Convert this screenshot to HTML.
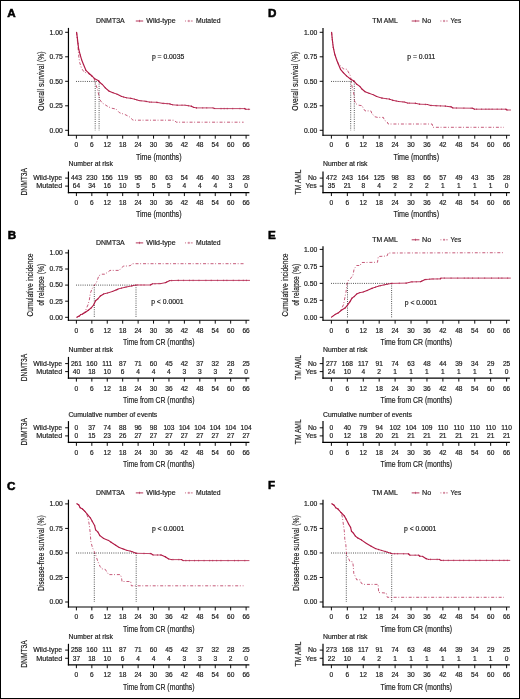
<!DOCTYPE html>
<html><head><meta charset="utf-8"><style>
html,body{margin:0;padding:0;background:#fff;}
body{width:520px;height:699px;overflow:hidden;}
svg{display:block;will-change:transform;}
text{font-family:"Liberation Sans", sans-serif;stroke:#1a1a1a;stroke-width:0.18px;}
</style></head><body>
<svg width="520" height="699" viewBox="0 0 520 699">
<rect x="0" y="0" width="520" height="699" fill="#fff"/>
<rect x="0.5" y="0.5" width="519" height="698" fill="none" stroke="#000" stroke-width="1"/>
<text x="7.30" y="17.35" font-size="11.65" text-anchor="start" font-weight="bold" fill="#000" style="stroke:#000;stroke-width:0.55px">A</text>
<text x="268.00" y="17.35" font-size="11.65" text-anchor="start" font-weight="bold" fill="#000" style="stroke:#000;stroke-width:0.55px">D</text>
<text x="7.70" y="239.45" font-size="11.65" text-anchor="start" font-weight="bold" fill="#000" style="stroke:#000;stroke-width:0.55px">B</text>
<text x="268.10" y="239.25" font-size="11.65" text-anchor="start" font-weight="bold" fill="#000" style="stroke:#000;stroke-width:0.55px">E</text>
<text x="7.00" y="489.65" font-size="11.65" text-anchor="start" font-weight="bold" fill="#000" style="stroke:#000;stroke-width:0.55px">C</text>
<text x="268.10" y="488.95" font-size="11.65" text-anchor="start" font-weight="bold" fill="#000" style="stroke:#000;stroke-width:0.55px">F</text>
<text x="96.10" y="23.20" font-size="6.95" text-anchor="start" font-weight="normal" fill="#1a1a1a">DNMT3A</text>
<text x="146.30" y="23.20" font-size="7.0" text-anchor="start" font-weight="normal" fill="#1a1a1a" textLength="29.3" lengthAdjust="spacingAndGlyphs">Wild-type</text>
<text x="196.00" y="23.20" font-size="7.0" text-anchor="start" font-weight="normal" fill="#1a1a1a" textLength="24.6" lengthAdjust="spacingAndGlyphs">Mutated</text>
<line x1="135.80" y1="21.00" x2="143.20" y2="21.00" stroke="#a8123e" stroke-width="1.0" opacity="0.85"/>
<line x1="139.50" y1="19.80" x2="139.50" y2="22.20" stroke="#a8123e" stroke-width="0.7" opacity="0.7"/>
<line x1="185.00" y1="21.00" x2="192.80" y2="21.00" stroke="#a8123e" stroke-width="1.0" stroke-dasharray="1.0,1.6,2.2,1.0,1.9" opacity="0.6"/>
<line x1="188.90" y1="19.80" x2="188.90" y2="22.20" stroke="#a8123e" stroke-width="0.7" opacity="0.5"/>
<line x1="68.45" y1="27.90" x2="68.45" y2="135.85" stroke="#000" stroke-width="1.2"/>
<line x1="65.15" y1="130.30" x2="68.45" y2="130.30" stroke="#000" stroke-width="0.95"/>
<text x="62.75" y="132.65" font-size="6.8" text-anchor="end" font-weight="normal" fill="#1a1a1a">0.00</text>
<line x1="65.15" y1="105.80" x2="68.45" y2="105.80" stroke="#000" stroke-width="0.95"/>
<text x="62.75" y="108.15" font-size="6.8" text-anchor="end" font-weight="normal" fill="#1a1a1a">0.25</text>
<line x1="65.15" y1="81.30" x2="68.45" y2="81.30" stroke="#000" stroke-width="0.95"/>
<text x="62.75" y="83.65" font-size="6.8" text-anchor="end" font-weight="normal" fill="#1a1a1a">0.50</text>
<line x1="65.15" y1="56.80" x2="68.45" y2="56.80" stroke="#000" stroke-width="0.95"/>
<text x="62.75" y="59.15" font-size="6.8" text-anchor="end" font-weight="normal" fill="#1a1a1a">0.75</text>
<line x1="65.15" y1="32.30" x2="68.45" y2="32.30" stroke="#000" stroke-width="0.95"/>
<text x="62.75" y="34.65" font-size="6.8" text-anchor="end" font-weight="normal" fill="#1a1a1a">1.00</text>
<line x1="67.85" y1="135.25" x2="249.40" y2="135.25" stroke="#000" stroke-width="1.2"/>
<line x1="76.40" y1="135.25" x2="76.40" y2="138.65" stroke="#000" stroke-width="0.95"/>
<text x="76.40" y="147.30" font-size="6.6" text-anchor="middle" font-weight="normal" fill="#1a1a1a">0</text>
<line x1="91.83" y1="135.25" x2="91.83" y2="138.65" stroke="#000" stroke-width="0.95"/>
<text x="91.83" y="147.30" font-size="6.6" text-anchor="middle" font-weight="normal" fill="#1a1a1a">6</text>
<line x1="107.25" y1="135.25" x2="107.25" y2="138.65" stroke="#000" stroke-width="0.95"/>
<text x="107.25" y="147.30" font-size="6.6" text-anchor="middle" font-weight="normal" fill="#1a1a1a">12</text>
<line x1="122.68" y1="135.25" x2="122.68" y2="138.65" stroke="#000" stroke-width="0.95"/>
<text x="122.68" y="147.30" font-size="6.6" text-anchor="middle" font-weight="normal" fill="#1a1a1a">18</text>
<line x1="138.11" y1="135.25" x2="138.11" y2="138.65" stroke="#000" stroke-width="0.95"/>
<text x="138.11" y="147.30" font-size="6.6" text-anchor="middle" font-weight="normal" fill="#1a1a1a">24</text>
<line x1="153.54" y1="135.25" x2="153.54" y2="138.65" stroke="#000" stroke-width="0.95"/>
<text x="153.54" y="147.30" font-size="6.6" text-anchor="middle" font-weight="normal" fill="#1a1a1a">30</text>
<line x1="168.96" y1="135.25" x2="168.96" y2="138.65" stroke="#000" stroke-width="0.95"/>
<text x="168.96" y="147.30" font-size="6.6" text-anchor="middle" font-weight="normal" fill="#1a1a1a">36</text>
<line x1="184.39" y1="135.25" x2="184.39" y2="138.65" stroke="#000" stroke-width="0.95"/>
<text x="184.39" y="147.30" font-size="6.6" text-anchor="middle" font-weight="normal" fill="#1a1a1a">42</text>
<line x1="199.82" y1="135.25" x2="199.82" y2="138.65" stroke="#000" stroke-width="0.95"/>
<text x="199.82" y="147.30" font-size="6.6" text-anchor="middle" font-weight="normal" fill="#1a1a1a">48</text>
<line x1="215.25" y1="135.25" x2="215.25" y2="138.65" stroke="#000" stroke-width="0.95"/>
<text x="215.25" y="147.30" font-size="6.6" text-anchor="middle" font-weight="normal" fill="#1a1a1a">54</text>
<line x1="230.67" y1="135.25" x2="230.67" y2="138.65" stroke="#000" stroke-width="0.95"/>
<text x="230.67" y="147.30" font-size="6.6" text-anchor="middle" font-weight="normal" fill="#1a1a1a">60</text>
<line x1="246.10" y1="135.25" x2="246.10" y2="138.65" stroke="#000" stroke-width="0.95"/>
<text x="246.10" y="147.30" font-size="6.6" text-anchor="middle" font-weight="normal" fill="#1a1a1a">66</text>
<text transform="translate(44.00,81.00) rotate(-90)" x="0" y="0" font-size="9.3" text-anchor="middle" fill="#1a1a1a" textLength="59.3" lengthAdjust="spacingAndGlyphs">Overall survival (%)</text>
<text x="151.90" y="59.10" font-size="6.8" text-anchor="start" font-weight="normal" fill="#1a1a1a">p = 0.0035</text>
<text x="158.73" y="159.50" font-size="8.9" text-anchor="middle" font-weight="normal" fill="#1a1a1a" textLength="45.6" lengthAdjust="spacingAndGlyphs">Time (months)</text>
<text x="68.45" y="166.40" font-size="6.85" text-anchor="start" font-weight="normal" fill="#1a1a1a" textLength="44.5" lengthAdjust="spacingAndGlyphs">Number at risk</text>
<line x1="68.45" y1="171.50" x2="68.45" y2="193.25" stroke="#000" stroke-width="1.2"/>
<line x1="67.85" y1="192.65" x2="249.40" y2="192.65" stroke="#000" stroke-width="1.2"/>
<line x1="76.40" y1="192.65" x2="76.40" y2="196.05" stroke="#000" stroke-width="0.95"/>
<text x="76.40" y="204.70" font-size="6.6" text-anchor="middle" font-weight="normal" fill="#1a1a1a">0</text>
<line x1="91.83" y1="192.65" x2="91.83" y2="196.05" stroke="#000" stroke-width="0.95"/>
<text x="91.83" y="204.70" font-size="6.6" text-anchor="middle" font-weight="normal" fill="#1a1a1a">6</text>
<line x1="107.25" y1="192.65" x2="107.25" y2="196.05" stroke="#000" stroke-width="0.95"/>
<text x="107.25" y="204.70" font-size="6.6" text-anchor="middle" font-weight="normal" fill="#1a1a1a">12</text>
<line x1="122.68" y1="192.65" x2="122.68" y2="196.05" stroke="#000" stroke-width="0.95"/>
<text x="122.68" y="204.70" font-size="6.6" text-anchor="middle" font-weight="normal" fill="#1a1a1a">18</text>
<line x1="138.11" y1="192.65" x2="138.11" y2="196.05" stroke="#000" stroke-width="0.95"/>
<text x="138.11" y="204.70" font-size="6.6" text-anchor="middle" font-weight="normal" fill="#1a1a1a">24</text>
<line x1="153.54" y1="192.65" x2="153.54" y2="196.05" stroke="#000" stroke-width="0.95"/>
<text x="153.54" y="204.70" font-size="6.6" text-anchor="middle" font-weight="normal" fill="#1a1a1a">30</text>
<line x1="168.96" y1="192.65" x2="168.96" y2="196.05" stroke="#000" stroke-width="0.95"/>
<text x="168.96" y="204.70" font-size="6.6" text-anchor="middle" font-weight="normal" fill="#1a1a1a">36</text>
<line x1="184.39" y1="192.65" x2="184.39" y2="196.05" stroke="#000" stroke-width="0.95"/>
<text x="184.39" y="204.70" font-size="6.6" text-anchor="middle" font-weight="normal" fill="#1a1a1a">42</text>
<line x1="199.82" y1="192.65" x2="199.82" y2="196.05" stroke="#000" stroke-width="0.95"/>
<text x="199.82" y="204.70" font-size="6.6" text-anchor="middle" font-weight="normal" fill="#1a1a1a">48</text>
<line x1="215.25" y1="192.65" x2="215.25" y2="196.05" stroke="#000" stroke-width="0.95"/>
<text x="215.25" y="204.70" font-size="6.6" text-anchor="middle" font-weight="normal" fill="#1a1a1a">54</text>
<line x1="230.67" y1="192.65" x2="230.67" y2="196.05" stroke="#000" stroke-width="0.95"/>
<text x="230.67" y="204.70" font-size="6.6" text-anchor="middle" font-weight="normal" fill="#1a1a1a">60</text>
<line x1="246.10" y1="192.65" x2="246.10" y2="196.05" stroke="#000" stroke-width="0.95"/>
<text x="246.10" y="204.70" font-size="6.6" text-anchor="middle" font-weight="normal" fill="#1a1a1a">66</text>
<line x1="65.15" y1="178.10" x2="68.45" y2="178.10" stroke="#000" stroke-width="0.95"/>
<text x="62.15" y="180.45" font-size="6.9" text-anchor="end" font-weight="normal" fill="#1a1a1a" textLength="28.9" lengthAdjust="spacingAndGlyphs">Wild-type</text>
<text x="76.40" y="180.45" font-size="6.6" text-anchor="middle" font-weight="normal" fill="#1a1a1a">443</text>
<text x="91.83" y="180.45" font-size="6.6" text-anchor="middle" font-weight="normal" fill="#1a1a1a">230</text>
<text x="107.25" y="180.45" font-size="6.6" text-anchor="middle" font-weight="normal" fill="#1a1a1a">156</text>
<text x="122.68" y="180.45" font-size="6.6" text-anchor="middle" font-weight="normal" fill="#1a1a1a">119</text>
<text x="138.11" y="180.45" font-size="6.6" text-anchor="middle" font-weight="normal" fill="#1a1a1a">95</text>
<text x="153.54" y="180.45" font-size="6.6" text-anchor="middle" font-weight="normal" fill="#1a1a1a">80</text>
<text x="168.96" y="180.45" font-size="6.6" text-anchor="middle" font-weight="normal" fill="#1a1a1a">63</text>
<text x="184.39" y="180.45" font-size="6.6" text-anchor="middle" font-weight="normal" fill="#1a1a1a">54</text>
<text x="199.82" y="180.45" font-size="6.6" text-anchor="middle" font-weight="normal" fill="#1a1a1a">46</text>
<text x="215.25" y="180.45" font-size="6.6" text-anchor="middle" font-weight="normal" fill="#1a1a1a">40</text>
<text x="230.67" y="180.45" font-size="6.6" text-anchor="middle" font-weight="normal" fill="#1a1a1a">33</text>
<text x="246.10" y="180.45" font-size="6.6" text-anchor="middle" font-weight="normal" fill="#1a1a1a">28</text>
<line x1="65.15" y1="186.10" x2="68.45" y2="186.10" stroke="#000" stroke-width="0.95"/>
<text x="62.15" y="188.45" font-size="6.9" text-anchor="end" font-weight="normal" fill="#1a1a1a" textLength="26.0" lengthAdjust="spacingAndGlyphs">Mutated</text>
<text x="76.40" y="188.45" font-size="6.6" text-anchor="middle" font-weight="normal" fill="#1a1a1a">64</text>
<text x="91.83" y="188.45" font-size="6.6" text-anchor="middle" font-weight="normal" fill="#1a1a1a">34</text>
<text x="107.25" y="188.45" font-size="6.6" text-anchor="middle" font-weight="normal" fill="#1a1a1a">16</text>
<text x="122.68" y="188.45" font-size="6.6" text-anchor="middle" font-weight="normal" fill="#1a1a1a">10</text>
<text x="138.11" y="188.45" font-size="6.6" text-anchor="middle" font-weight="normal" fill="#1a1a1a">5</text>
<text x="153.54" y="188.45" font-size="6.6" text-anchor="middle" font-weight="normal" fill="#1a1a1a">5</text>
<text x="168.96" y="188.45" font-size="6.6" text-anchor="middle" font-weight="normal" fill="#1a1a1a">5</text>
<text x="184.39" y="188.45" font-size="6.6" text-anchor="middle" font-weight="normal" fill="#1a1a1a">4</text>
<text x="199.82" y="188.45" font-size="6.6" text-anchor="middle" font-weight="normal" fill="#1a1a1a">4</text>
<text x="215.25" y="188.45" font-size="6.6" text-anchor="middle" font-weight="normal" fill="#1a1a1a">4</text>
<text x="230.67" y="188.45" font-size="6.6" text-anchor="middle" font-weight="normal" fill="#1a1a1a">3</text>
<text x="246.10" y="188.45" font-size="6.6" text-anchor="middle" font-weight="normal" fill="#1a1a1a">0</text>
<text transform="translate(27.20,181.75) rotate(-90)" x="0" y="0" font-size="9.3" text-anchor="middle" fill="#1a1a1a" textLength="27.6" lengthAdjust="spacingAndGlyphs">DNMT3A</text>
<text x="158.73" y="217.10" font-size="8.9" text-anchor="middle" font-weight="normal" fill="#1a1a1a" textLength="45.6" lengthAdjust="spacingAndGlyphs">Time (months)</text>
<text x="96.10" y="245.10" font-size="6.95" text-anchor="start" font-weight="normal" fill="#1a1a1a">DNMT3A</text>
<text x="146.30" y="245.10" font-size="7.0" text-anchor="start" font-weight="normal" fill="#1a1a1a" textLength="29.3" lengthAdjust="spacingAndGlyphs">Wild-type</text>
<text x="196.00" y="245.10" font-size="7.0" text-anchor="start" font-weight="normal" fill="#1a1a1a" textLength="24.6" lengthAdjust="spacingAndGlyphs">Mutated</text>
<line x1="135.80" y1="242.90" x2="143.20" y2="242.90" stroke="#a8123e" stroke-width="1.0" opacity="0.85"/>
<line x1="139.50" y1="241.70" x2="139.50" y2="244.10" stroke="#a8123e" stroke-width="0.7" opacity="0.7"/>
<line x1="185.00" y1="242.90" x2="192.80" y2="242.90" stroke="#a8123e" stroke-width="1.0" stroke-dasharray="1.0,1.6,2.2,1.0,1.9" opacity="0.6"/>
<line x1="188.90" y1="241.70" x2="188.90" y2="244.10" stroke="#a8123e" stroke-width="0.7" opacity="0.5"/>
<line x1="68.45" y1="249.70" x2="68.45" y2="320.85" stroke="#000" stroke-width="1.2"/>
<line x1="65.15" y1="317.30" x2="68.45" y2="317.30" stroke="#000" stroke-width="0.95"/>
<text x="62.75" y="319.65" font-size="6.8" text-anchor="end" font-weight="normal" fill="#1a1a1a">0.00</text>
<line x1="65.15" y1="301.20" x2="68.45" y2="301.20" stroke="#000" stroke-width="0.95"/>
<text x="62.75" y="303.55" font-size="6.8" text-anchor="end" font-weight="normal" fill="#1a1a1a">0.25</text>
<line x1="65.15" y1="285.10" x2="68.45" y2="285.10" stroke="#000" stroke-width="0.95"/>
<text x="62.75" y="287.45" font-size="6.8" text-anchor="end" font-weight="normal" fill="#1a1a1a">0.50</text>
<line x1="65.15" y1="269.00" x2="68.45" y2="269.00" stroke="#000" stroke-width="0.95"/>
<text x="62.75" y="271.35" font-size="6.8" text-anchor="end" font-weight="normal" fill="#1a1a1a">0.75</text>
<line x1="65.15" y1="252.90" x2="68.45" y2="252.90" stroke="#000" stroke-width="0.95"/>
<text x="62.75" y="255.25" font-size="6.8" text-anchor="end" font-weight="normal" fill="#1a1a1a">1.00</text>
<line x1="67.85" y1="320.25" x2="249.40" y2="320.25" stroke="#000" stroke-width="1.2"/>
<line x1="76.40" y1="320.25" x2="76.40" y2="323.65" stroke="#000" stroke-width="0.95"/>
<text x="76.40" y="332.60" font-size="6.6" text-anchor="middle" font-weight="normal" fill="#1a1a1a">0</text>
<line x1="91.83" y1="320.25" x2="91.83" y2="323.65" stroke="#000" stroke-width="0.95"/>
<text x="91.83" y="332.60" font-size="6.6" text-anchor="middle" font-weight="normal" fill="#1a1a1a">6</text>
<line x1="107.25" y1="320.25" x2="107.25" y2="323.65" stroke="#000" stroke-width="0.95"/>
<text x="107.25" y="332.60" font-size="6.6" text-anchor="middle" font-weight="normal" fill="#1a1a1a">12</text>
<line x1="122.68" y1="320.25" x2="122.68" y2="323.65" stroke="#000" stroke-width="0.95"/>
<text x="122.68" y="332.60" font-size="6.6" text-anchor="middle" font-weight="normal" fill="#1a1a1a">18</text>
<line x1="138.11" y1="320.25" x2="138.11" y2="323.65" stroke="#000" stroke-width="0.95"/>
<text x="138.11" y="332.60" font-size="6.6" text-anchor="middle" font-weight="normal" fill="#1a1a1a">24</text>
<line x1="153.54" y1="320.25" x2="153.54" y2="323.65" stroke="#000" stroke-width="0.95"/>
<text x="153.54" y="332.60" font-size="6.6" text-anchor="middle" font-weight="normal" fill="#1a1a1a">30</text>
<line x1="168.96" y1="320.25" x2="168.96" y2="323.65" stroke="#000" stroke-width="0.95"/>
<text x="168.96" y="332.60" font-size="6.6" text-anchor="middle" font-weight="normal" fill="#1a1a1a">36</text>
<line x1="184.39" y1="320.25" x2="184.39" y2="323.65" stroke="#000" stroke-width="0.95"/>
<text x="184.39" y="332.60" font-size="6.6" text-anchor="middle" font-weight="normal" fill="#1a1a1a">42</text>
<line x1="199.82" y1="320.25" x2="199.82" y2="323.65" stroke="#000" stroke-width="0.95"/>
<text x="199.82" y="332.60" font-size="6.6" text-anchor="middle" font-weight="normal" fill="#1a1a1a">48</text>
<line x1="215.25" y1="320.25" x2="215.25" y2="323.65" stroke="#000" stroke-width="0.95"/>
<text x="215.25" y="332.60" font-size="6.6" text-anchor="middle" font-weight="normal" fill="#1a1a1a">54</text>
<line x1="230.67" y1="320.25" x2="230.67" y2="323.65" stroke="#000" stroke-width="0.95"/>
<text x="230.67" y="332.60" font-size="6.6" text-anchor="middle" font-weight="normal" fill="#1a1a1a">60</text>
<line x1="246.10" y1="320.25" x2="246.10" y2="323.65" stroke="#000" stroke-width="0.95"/>
<text x="246.10" y="332.60" font-size="6.6" text-anchor="middle" font-weight="normal" fill="#1a1a1a">66</text>
<text transform="translate(32.90,285.05) rotate(-90)" x="0" y="0" font-size="9.0" text-anchor="middle" fill="#1a1a1a" textLength="63.1" lengthAdjust="spacingAndGlyphs">Cumulative incidence</text>
<text transform="translate(43.60,284.75) rotate(-90)" x="0" y="0" font-size="9.0" text-anchor="middle" fill="#1a1a1a" textLength="41.9" lengthAdjust="spacingAndGlyphs">of relapse (%)</text>
<text x="151.20" y="303.60" font-size="6.8" text-anchor="start" font-weight="normal" fill="#1a1a1a">p &lt; 0.0001</text>
<text x="158.73" y="344.60" font-size="8.9" text-anchor="middle" font-weight="normal" fill="#1a1a1a" textLength="71.5" lengthAdjust="spacingAndGlyphs">Time from CR (months)</text>
<text x="68.45" y="352.00" font-size="6.85" text-anchor="start" font-weight="normal" fill="#1a1a1a" textLength="44.5" lengthAdjust="spacingAndGlyphs">Number at risk</text>
<line x1="68.45" y1="356.90" x2="68.45" y2="378.80" stroke="#000" stroke-width="1.2"/>
<line x1="67.85" y1="378.20" x2="249.40" y2="378.20" stroke="#000" stroke-width="1.2"/>
<line x1="76.40" y1="378.20" x2="76.40" y2="381.60" stroke="#000" stroke-width="0.95"/>
<text x="76.40" y="390.60" font-size="6.6" text-anchor="middle" font-weight="normal" fill="#1a1a1a">0</text>
<line x1="91.83" y1="378.20" x2="91.83" y2="381.60" stroke="#000" stroke-width="0.95"/>
<text x="91.83" y="390.60" font-size="6.6" text-anchor="middle" font-weight="normal" fill="#1a1a1a">6</text>
<line x1="107.25" y1="378.20" x2="107.25" y2="381.60" stroke="#000" stroke-width="0.95"/>
<text x="107.25" y="390.60" font-size="6.6" text-anchor="middle" font-weight="normal" fill="#1a1a1a">12</text>
<line x1="122.68" y1="378.20" x2="122.68" y2="381.60" stroke="#000" stroke-width="0.95"/>
<text x="122.68" y="390.60" font-size="6.6" text-anchor="middle" font-weight="normal" fill="#1a1a1a">18</text>
<line x1="138.11" y1="378.20" x2="138.11" y2="381.60" stroke="#000" stroke-width="0.95"/>
<text x="138.11" y="390.60" font-size="6.6" text-anchor="middle" font-weight="normal" fill="#1a1a1a">24</text>
<line x1="153.54" y1="378.20" x2="153.54" y2="381.60" stroke="#000" stroke-width="0.95"/>
<text x="153.54" y="390.60" font-size="6.6" text-anchor="middle" font-weight="normal" fill="#1a1a1a">30</text>
<line x1="168.96" y1="378.20" x2="168.96" y2="381.60" stroke="#000" stroke-width="0.95"/>
<text x="168.96" y="390.60" font-size="6.6" text-anchor="middle" font-weight="normal" fill="#1a1a1a">36</text>
<line x1="184.39" y1="378.20" x2="184.39" y2="381.60" stroke="#000" stroke-width="0.95"/>
<text x="184.39" y="390.60" font-size="6.6" text-anchor="middle" font-weight="normal" fill="#1a1a1a">42</text>
<line x1="199.82" y1="378.20" x2="199.82" y2="381.60" stroke="#000" stroke-width="0.95"/>
<text x="199.82" y="390.60" font-size="6.6" text-anchor="middle" font-weight="normal" fill="#1a1a1a">48</text>
<line x1="215.25" y1="378.20" x2="215.25" y2="381.60" stroke="#000" stroke-width="0.95"/>
<text x="215.25" y="390.60" font-size="6.6" text-anchor="middle" font-weight="normal" fill="#1a1a1a">54</text>
<line x1="230.67" y1="378.20" x2="230.67" y2="381.60" stroke="#000" stroke-width="0.95"/>
<text x="230.67" y="390.60" font-size="6.6" text-anchor="middle" font-weight="normal" fill="#1a1a1a">60</text>
<line x1="246.10" y1="378.20" x2="246.10" y2="381.60" stroke="#000" stroke-width="0.95"/>
<text x="246.10" y="390.60" font-size="6.6" text-anchor="middle" font-weight="normal" fill="#1a1a1a">66</text>
<line x1="65.15" y1="363.60" x2="68.45" y2="363.60" stroke="#000" stroke-width="0.95"/>
<text x="62.15" y="365.95" font-size="6.9" text-anchor="end" font-weight="normal" fill="#1a1a1a" textLength="28.9" lengthAdjust="spacingAndGlyphs">Wild-type</text>
<text x="76.40" y="365.95" font-size="6.6" text-anchor="middle" font-weight="normal" fill="#1a1a1a">261</text>
<text x="91.83" y="365.95" font-size="6.6" text-anchor="middle" font-weight="normal" fill="#1a1a1a">160</text>
<text x="107.25" y="365.95" font-size="6.6" text-anchor="middle" font-weight="normal" fill="#1a1a1a">111</text>
<text x="122.68" y="365.95" font-size="6.6" text-anchor="middle" font-weight="normal" fill="#1a1a1a">87</text>
<text x="138.11" y="365.95" font-size="6.6" text-anchor="middle" font-weight="normal" fill="#1a1a1a">71</text>
<text x="153.54" y="365.95" font-size="6.6" text-anchor="middle" font-weight="normal" fill="#1a1a1a">60</text>
<text x="168.96" y="365.95" font-size="6.6" text-anchor="middle" font-weight="normal" fill="#1a1a1a">45</text>
<text x="184.39" y="365.95" font-size="6.6" text-anchor="middle" font-weight="normal" fill="#1a1a1a">42</text>
<text x="199.82" y="365.95" font-size="6.6" text-anchor="middle" font-weight="normal" fill="#1a1a1a">37</text>
<text x="215.25" y="365.95" font-size="6.6" text-anchor="middle" font-weight="normal" fill="#1a1a1a">32</text>
<text x="230.67" y="365.95" font-size="6.6" text-anchor="middle" font-weight="normal" fill="#1a1a1a">28</text>
<text x="246.10" y="365.95" font-size="6.6" text-anchor="middle" font-weight="normal" fill="#1a1a1a">25</text>
<line x1="65.15" y1="371.60" x2="68.45" y2="371.60" stroke="#000" stroke-width="0.95"/>
<text x="62.15" y="373.95" font-size="6.9" text-anchor="end" font-weight="normal" fill="#1a1a1a" textLength="26.0" lengthAdjust="spacingAndGlyphs">Mutated</text>
<text x="76.40" y="373.95" font-size="6.6" text-anchor="middle" font-weight="normal" fill="#1a1a1a">40</text>
<text x="91.83" y="373.95" font-size="6.6" text-anchor="middle" font-weight="normal" fill="#1a1a1a">18</text>
<text x="107.25" y="373.95" font-size="6.6" text-anchor="middle" font-weight="normal" fill="#1a1a1a">10</text>
<text x="122.68" y="373.95" font-size="6.6" text-anchor="middle" font-weight="normal" fill="#1a1a1a">6</text>
<text x="138.11" y="373.95" font-size="6.6" text-anchor="middle" font-weight="normal" fill="#1a1a1a">4</text>
<text x="153.54" y="373.95" font-size="6.6" text-anchor="middle" font-weight="normal" fill="#1a1a1a">4</text>
<text x="168.96" y="373.95" font-size="6.6" text-anchor="middle" font-weight="normal" fill="#1a1a1a">4</text>
<text x="184.39" y="373.95" font-size="6.6" text-anchor="middle" font-weight="normal" fill="#1a1a1a">3</text>
<text x="199.82" y="373.95" font-size="6.6" text-anchor="middle" font-weight="normal" fill="#1a1a1a">3</text>
<text x="215.25" y="373.95" font-size="6.6" text-anchor="middle" font-weight="normal" fill="#1a1a1a">3</text>
<text x="230.67" y="373.95" font-size="6.6" text-anchor="middle" font-weight="normal" fill="#1a1a1a">2</text>
<text x="246.10" y="373.95" font-size="6.6" text-anchor="middle" font-weight="normal" fill="#1a1a1a">0</text>
<text transform="translate(27.20,367.50) rotate(-90)" x="0" y="0" font-size="9.3" text-anchor="middle" fill="#1a1a1a" textLength="27.6" lengthAdjust="spacingAndGlyphs">DNMT3A</text>
<text x="158.73" y="403.10" font-size="8.9" text-anchor="middle" font-weight="normal" fill="#1a1a1a" textLength="71.5" lengthAdjust="spacingAndGlyphs">Time from CR (months)</text>
<text x="68.45" y="416.50" font-size="6.83" text-anchor="start" font-weight="normal" fill="#1a1a1a" textLength="88.8" lengthAdjust="spacingAndGlyphs">Cumulative number of events</text>
<line x1="68.45" y1="421.10" x2="68.45" y2="443.05" stroke="#000" stroke-width="1.2"/>
<line x1="67.85" y1="442.45" x2="249.40" y2="442.45" stroke="#000" stroke-width="1.2"/>
<line x1="76.40" y1="442.45" x2="76.40" y2="445.85" stroke="#000" stroke-width="0.95"/>
<text x="76.40" y="454.80" font-size="6.6" text-anchor="middle" font-weight="normal" fill="#1a1a1a">0</text>
<line x1="91.83" y1="442.45" x2="91.83" y2="445.85" stroke="#000" stroke-width="0.95"/>
<text x="91.83" y="454.80" font-size="6.6" text-anchor="middle" font-weight="normal" fill="#1a1a1a">6</text>
<line x1="107.25" y1="442.45" x2="107.25" y2="445.85" stroke="#000" stroke-width="0.95"/>
<text x="107.25" y="454.80" font-size="6.6" text-anchor="middle" font-weight="normal" fill="#1a1a1a">12</text>
<line x1="122.68" y1="442.45" x2="122.68" y2="445.85" stroke="#000" stroke-width="0.95"/>
<text x="122.68" y="454.80" font-size="6.6" text-anchor="middle" font-weight="normal" fill="#1a1a1a">18</text>
<line x1="138.11" y1="442.45" x2="138.11" y2="445.85" stroke="#000" stroke-width="0.95"/>
<text x="138.11" y="454.80" font-size="6.6" text-anchor="middle" font-weight="normal" fill="#1a1a1a">24</text>
<line x1="153.54" y1="442.45" x2="153.54" y2="445.85" stroke="#000" stroke-width="0.95"/>
<text x="153.54" y="454.80" font-size="6.6" text-anchor="middle" font-weight="normal" fill="#1a1a1a">30</text>
<line x1="168.96" y1="442.45" x2="168.96" y2="445.85" stroke="#000" stroke-width="0.95"/>
<text x="168.96" y="454.80" font-size="6.6" text-anchor="middle" font-weight="normal" fill="#1a1a1a">36</text>
<line x1="184.39" y1="442.45" x2="184.39" y2="445.85" stroke="#000" stroke-width="0.95"/>
<text x="184.39" y="454.80" font-size="6.6" text-anchor="middle" font-weight="normal" fill="#1a1a1a">42</text>
<line x1="199.82" y1="442.45" x2="199.82" y2="445.85" stroke="#000" stroke-width="0.95"/>
<text x="199.82" y="454.80" font-size="6.6" text-anchor="middle" font-weight="normal" fill="#1a1a1a">48</text>
<line x1="215.25" y1="442.45" x2="215.25" y2="445.85" stroke="#000" stroke-width="0.95"/>
<text x="215.25" y="454.80" font-size="6.6" text-anchor="middle" font-weight="normal" fill="#1a1a1a">54</text>
<line x1="230.67" y1="442.45" x2="230.67" y2="445.85" stroke="#000" stroke-width="0.95"/>
<text x="230.67" y="454.80" font-size="6.6" text-anchor="middle" font-weight="normal" fill="#1a1a1a">60</text>
<line x1="246.10" y1="442.45" x2="246.10" y2="445.85" stroke="#000" stroke-width="0.95"/>
<text x="246.10" y="454.80" font-size="6.6" text-anchor="middle" font-weight="normal" fill="#1a1a1a">66</text>
<line x1="65.15" y1="427.80" x2="68.45" y2="427.80" stroke="#000" stroke-width="0.95"/>
<text x="62.15" y="430.15" font-size="6.9" text-anchor="end" font-weight="normal" fill="#1a1a1a" textLength="28.9" lengthAdjust="spacingAndGlyphs">Wild-type</text>
<text x="76.40" y="430.15" font-size="6.6" text-anchor="middle" font-weight="normal" fill="#1a1a1a">0</text>
<text x="91.83" y="430.15" font-size="6.6" text-anchor="middle" font-weight="normal" fill="#1a1a1a">37</text>
<text x="107.25" y="430.15" font-size="6.6" text-anchor="middle" font-weight="normal" fill="#1a1a1a">74</text>
<text x="122.68" y="430.15" font-size="6.6" text-anchor="middle" font-weight="normal" fill="#1a1a1a">88</text>
<text x="138.11" y="430.15" font-size="6.6" text-anchor="middle" font-weight="normal" fill="#1a1a1a">96</text>
<text x="153.54" y="430.15" font-size="6.6" text-anchor="middle" font-weight="normal" fill="#1a1a1a">98</text>
<text x="168.96" y="430.15" font-size="6.6" text-anchor="middle" font-weight="normal" fill="#1a1a1a">103</text>
<text x="184.39" y="430.15" font-size="6.6" text-anchor="middle" font-weight="normal" fill="#1a1a1a">104</text>
<text x="199.82" y="430.15" font-size="6.6" text-anchor="middle" font-weight="normal" fill="#1a1a1a">104</text>
<text x="215.25" y="430.15" font-size="6.6" text-anchor="middle" font-weight="normal" fill="#1a1a1a">104</text>
<text x="230.67" y="430.15" font-size="6.6" text-anchor="middle" font-weight="normal" fill="#1a1a1a">104</text>
<text x="246.10" y="430.15" font-size="6.6" text-anchor="middle" font-weight="normal" fill="#1a1a1a">104</text>
<line x1="65.15" y1="435.90" x2="68.45" y2="435.90" stroke="#000" stroke-width="0.95"/>
<text x="62.15" y="438.25" font-size="6.9" text-anchor="end" font-weight="normal" fill="#1a1a1a" textLength="26.0" lengthAdjust="spacingAndGlyphs">Mutated</text>
<text x="76.40" y="438.25" font-size="6.6" text-anchor="middle" font-weight="normal" fill="#1a1a1a">0</text>
<text x="91.83" y="438.25" font-size="6.6" text-anchor="middle" font-weight="normal" fill="#1a1a1a">15</text>
<text x="107.25" y="438.25" font-size="6.6" text-anchor="middle" font-weight="normal" fill="#1a1a1a">23</text>
<text x="122.68" y="438.25" font-size="6.6" text-anchor="middle" font-weight="normal" fill="#1a1a1a">26</text>
<text x="138.11" y="438.25" font-size="6.6" text-anchor="middle" font-weight="normal" fill="#1a1a1a">27</text>
<text x="153.54" y="438.25" font-size="6.6" text-anchor="middle" font-weight="normal" fill="#1a1a1a">27</text>
<text x="168.96" y="438.25" font-size="6.6" text-anchor="middle" font-weight="normal" fill="#1a1a1a">27</text>
<text x="184.39" y="438.25" font-size="6.6" text-anchor="middle" font-weight="normal" fill="#1a1a1a">27</text>
<text x="199.82" y="438.25" font-size="6.6" text-anchor="middle" font-weight="normal" fill="#1a1a1a">27</text>
<text x="215.25" y="438.25" font-size="6.6" text-anchor="middle" font-weight="normal" fill="#1a1a1a">27</text>
<text x="230.67" y="438.25" font-size="6.6" text-anchor="middle" font-weight="normal" fill="#1a1a1a">27</text>
<text x="246.10" y="438.25" font-size="6.6" text-anchor="middle" font-weight="normal" fill="#1a1a1a">27</text>
<text transform="translate(27.20,431.80) rotate(-90)" x="0" y="0" font-size="9.3" text-anchor="middle" fill="#1a1a1a" textLength="27.6" lengthAdjust="spacingAndGlyphs">DNMT3A</text>
<text x="158.73" y="467.40" font-size="8.9" text-anchor="middle" font-weight="normal" fill="#1a1a1a" textLength="71.5" lengthAdjust="spacingAndGlyphs">Time from CR (months)</text>
<text x="96.10" y="495.10" font-size="6.95" text-anchor="start" font-weight="normal" fill="#1a1a1a">DNMT3A</text>
<text x="146.30" y="495.10" font-size="7.0" text-anchor="start" font-weight="normal" fill="#1a1a1a" textLength="29.3" lengthAdjust="spacingAndGlyphs">Wild-type</text>
<text x="196.00" y="495.10" font-size="7.0" text-anchor="start" font-weight="normal" fill="#1a1a1a" textLength="24.6" lengthAdjust="spacingAndGlyphs">Mutated</text>
<line x1="135.80" y1="492.90" x2="143.20" y2="492.90" stroke="#a8123e" stroke-width="1.0" opacity="0.85"/>
<line x1="139.50" y1="491.70" x2="139.50" y2="494.10" stroke="#a8123e" stroke-width="0.7" opacity="0.7"/>
<line x1="185.00" y1="492.90" x2="192.80" y2="492.90" stroke="#a8123e" stroke-width="1.0" stroke-dasharray="1.0,1.6,2.2,1.0,1.9" opacity="0.6"/>
<line x1="188.90" y1="491.70" x2="188.90" y2="494.10" stroke="#a8123e" stroke-width="0.7" opacity="0.5"/>
<line x1="68.45" y1="499.70" x2="68.45" y2="607.60" stroke="#000" stroke-width="1.2"/>
<line x1="65.15" y1="602.00" x2="68.45" y2="602.00" stroke="#000" stroke-width="0.95"/>
<text x="62.75" y="604.35" font-size="6.8" text-anchor="end" font-weight="normal" fill="#1a1a1a">0.00</text>
<line x1="65.15" y1="577.48" x2="68.45" y2="577.48" stroke="#000" stroke-width="0.95"/>
<text x="62.75" y="579.83" font-size="6.8" text-anchor="end" font-weight="normal" fill="#1a1a1a">0.25</text>
<line x1="65.15" y1="552.95" x2="68.45" y2="552.95" stroke="#000" stroke-width="0.95"/>
<text x="62.75" y="555.30" font-size="6.8" text-anchor="end" font-weight="normal" fill="#1a1a1a">0.50</text>
<line x1="65.15" y1="528.42" x2="68.45" y2="528.42" stroke="#000" stroke-width="0.95"/>
<text x="62.75" y="530.77" font-size="6.8" text-anchor="end" font-weight="normal" fill="#1a1a1a">0.75</text>
<line x1="65.15" y1="503.90" x2="68.45" y2="503.90" stroke="#000" stroke-width="0.95"/>
<text x="62.75" y="506.25" font-size="6.8" text-anchor="end" font-weight="normal" fill="#1a1a1a">1.00</text>
<line x1="67.85" y1="607.00" x2="249.40" y2="607.00" stroke="#000" stroke-width="1.2"/>
<line x1="76.40" y1="607.00" x2="76.40" y2="610.40" stroke="#000" stroke-width="0.95"/>
<text x="76.40" y="618.80" font-size="6.6" text-anchor="middle" font-weight="normal" fill="#1a1a1a">0</text>
<line x1="91.83" y1="607.00" x2="91.83" y2="610.40" stroke="#000" stroke-width="0.95"/>
<text x="91.83" y="618.80" font-size="6.6" text-anchor="middle" font-weight="normal" fill="#1a1a1a">6</text>
<line x1="107.25" y1="607.00" x2="107.25" y2="610.40" stroke="#000" stroke-width="0.95"/>
<text x="107.25" y="618.80" font-size="6.6" text-anchor="middle" font-weight="normal" fill="#1a1a1a">12</text>
<line x1="122.68" y1="607.00" x2="122.68" y2="610.40" stroke="#000" stroke-width="0.95"/>
<text x="122.68" y="618.80" font-size="6.6" text-anchor="middle" font-weight="normal" fill="#1a1a1a">18</text>
<line x1="138.11" y1="607.00" x2="138.11" y2="610.40" stroke="#000" stroke-width="0.95"/>
<text x="138.11" y="618.80" font-size="6.6" text-anchor="middle" font-weight="normal" fill="#1a1a1a">24</text>
<line x1="153.54" y1="607.00" x2="153.54" y2="610.40" stroke="#000" stroke-width="0.95"/>
<text x="153.54" y="618.80" font-size="6.6" text-anchor="middle" font-weight="normal" fill="#1a1a1a">30</text>
<line x1="168.96" y1="607.00" x2="168.96" y2="610.40" stroke="#000" stroke-width="0.95"/>
<text x="168.96" y="618.80" font-size="6.6" text-anchor="middle" font-weight="normal" fill="#1a1a1a">36</text>
<line x1="184.39" y1="607.00" x2="184.39" y2="610.40" stroke="#000" stroke-width="0.95"/>
<text x="184.39" y="618.80" font-size="6.6" text-anchor="middle" font-weight="normal" fill="#1a1a1a">42</text>
<line x1="199.82" y1="607.00" x2="199.82" y2="610.40" stroke="#000" stroke-width="0.95"/>
<text x="199.82" y="618.80" font-size="6.6" text-anchor="middle" font-weight="normal" fill="#1a1a1a">48</text>
<line x1="215.25" y1="607.00" x2="215.25" y2="610.40" stroke="#000" stroke-width="0.95"/>
<text x="215.25" y="618.80" font-size="6.6" text-anchor="middle" font-weight="normal" fill="#1a1a1a">54</text>
<line x1="230.67" y1="607.00" x2="230.67" y2="610.40" stroke="#000" stroke-width="0.95"/>
<text x="230.67" y="618.80" font-size="6.6" text-anchor="middle" font-weight="normal" fill="#1a1a1a">60</text>
<line x1="246.10" y1="607.00" x2="246.10" y2="610.40" stroke="#000" stroke-width="0.95"/>
<text x="246.10" y="618.80" font-size="6.6" text-anchor="middle" font-weight="normal" fill="#1a1a1a">66</text>
<text transform="translate(44.10,553.20) rotate(-90)" x="0" y="0" font-size="9.3" text-anchor="middle" fill="#1a1a1a" textLength="75.8" lengthAdjust="spacingAndGlyphs">Disease-free survival (%)</text>
<text x="151.90" y="531.00" font-size="6.8" text-anchor="start" font-weight="normal" fill="#1a1a1a">p &lt; 0.0001</text>
<text x="158.73" y="631.70" font-size="8.9" text-anchor="middle" font-weight="normal" fill="#1a1a1a" textLength="71.5" lengthAdjust="spacingAndGlyphs">Time from CR (months)</text>
<text x="68.45" y="638.50" font-size="6.85" text-anchor="start" font-weight="normal" fill="#1a1a1a" textLength="44.5" lengthAdjust="spacingAndGlyphs">Number at risk</text>
<line x1="68.45" y1="643.80" x2="68.45" y2="665.40" stroke="#000" stroke-width="1.2"/>
<line x1="67.85" y1="664.80" x2="249.40" y2="664.80" stroke="#000" stroke-width="1.2"/>
<line x1="76.40" y1="664.80" x2="76.40" y2="668.20" stroke="#000" stroke-width="0.95"/>
<text x="76.40" y="676.70" font-size="6.6" text-anchor="middle" font-weight="normal" fill="#1a1a1a">0</text>
<line x1="91.83" y1="664.80" x2="91.83" y2="668.20" stroke="#000" stroke-width="0.95"/>
<text x="91.83" y="676.70" font-size="6.6" text-anchor="middle" font-weight="normal" fill="#1a1a1a">6</text>
<line x1="107.25" y1="664.80" x2="107.25" y2="668.20" stroke="#000" stroke-width="0.95"/>
<text x="107.25" y="676.70" font-size="6.6" text-anchor="middle" font-weight="normal" fill="#1a1a1a">12</text>
<line x1="122.68" y1="664.80" x2="122.68" y2="668.20" stroke="#000" stroke-width="0.95"/>
<text x="122.68" y="676.70" font-size="6.6" text-anchor="middle" font-weight="normal" fill="#1a1a1a">18</text>
<line x1="138.11" y1="664.80" x2="138.11" y2="668.20" stroke="#000" stroke-width="0.95"/>
<text x="138.11" y="676.70" font-size="6.6" text-anchor="middle" font-weight="normal" fill="#1a1a1a">24</text>
<line x1="153.54" y1="664.80" x2="153.54" y2="668.20" stroke="#000" stroke-width="0.95"/>
<text x="153.54" y="676.70" font-size="6.6" text-anchor="middle" font-weight="normal" fill="#1a1a1a">30</text>
<line x1="168.96" y1="664.80" x2="168.96" y2="668.20" stroke="#000" stroke-width="0.95"/>
<text x="168.96" y="676.70" font-size="6.6" text-anchor="middle" font-weight="normal" fill="#1a1a1a">36</text>
<line x1="184.39" y1="664.80" x2="184.39" y2="668.20" stroke="#000" stroke-width="0.95"/>
<text x="184.39" y="676.70" font-size="6.6" text-anchor="middle" font-weight="normal" fill="#1a1a1a">42</text>
<line x1="199.82" y1="664.80" x2="199.82" y2="668.20" stroke="#000" stroke-width="0.95"/>
<text x="199.82" y="676.70" font-size="6.6" text-anchor="middle" font-weight="normal" fill="#1a1a1a">48</text>
<line x1="215.25" y1="664.80" x2="215.25" y2="668.20" stroke="#000" stroke-width="0.95"/>
<text x="215.25" y="676.70" font-size="6.6" text-anchor="middle" font-weight="normal" fill="#1a1a1a">54</text>
<line x1="230.67" y1="664.80" x2="230.67" y2="668.20" stroke="#000" stroke-width="0.95"/>
<text x="230.67" y="676.70" font-size="6.6" text-anchor="middle" font-weight="normal" fill="#1a1a1a">60</text>
<line x1="246.10" y1="664.80" x2="246.10" y2="668.20" stroke="#000" stroke-width="0.95"/>
<text x="246.10" y="676.70" font-size="6.6" text-anchor="middle" font-weight="normal" fill="#1a1a1a">66</text>
<line x1="65.15" y1="650.10" x2="68.45" y2="650.10" stroke="#000" stroke-width="0.95"/>
<text x="62.15" y="652.45" font-size="6.9" text-anchor="end" font-weight="normal" fill="#1a1a1a" textLength="28.9" lengthAdjust="spacingAndGlyphs">Wild-type</text>
<text x="76.40" y="652.45" font-size="6.6" text-anchor="middle" font-weight="normal" fill="#1a1a1a">258</text>
<text x="91.83" y="652.45" font-size="6.6" text-anchor="middle" font-weight="normal" fill="#1a1a1a">160</text>
<text x="107.25" y="652.45" font-size="6.6" text-anchor="middle" font-weight="normal" fill="#1a1a1a">111</text>
<text x="122.68" y="652.45" font-size="6.6" text-anchor="middle" font-weight="normal" fill="#1a1a1a">87</text>
<text x="138.11" y="652.45" font-size="6.6" text-anchor="middle" font-weight="normal" fill="#1a1a1a">71</text>
<text x="153.54" y="652.45" font-size="6.6" text-anchor="middle" font-weight="normal" fill="#1a1a1a">60</text>
<text x="168.96" y="652.45" font-size="6.6" text-anchor="middle" font-weight="normal" fill="#1a1a1a">45</text>
<text x="184.39" y="652.45" font-size="6.6" text-anchor="middle" font-weight="normal" fill="#1a1a1a">42</text>
<text x="199.82" y="652.45" font-size="6.6" text-anchor="middle" font-weight="normal" fill="#1a1a1a">37</text>
<text x="215.25" y="652.45" font-size="6.6" text-anchor="middle" font-weight="normal" fill="#1a1a1a">32</text>
<text x="230.67" y="652.45" font-size="6.6" text-anchor="middle" font-weight="normal" fill="#1a1a1a">28</text>
<text x="246.10" y="652.45" font-size="6.6" text-anchor="middle" font-weight="normal" fill="#1a1a1a">25</text>
<line x1="65.15" y1="658.25" x2="68.45" y2="658.25" stroke="#000" stroke-width="0.95"/>
<text x="62.15" y="660.60" font-size="6.9" text-anchor="end" font-weight="normal" fill="#1a1a1a" textLength="26.0" lengthAdjust="spacingAndGlyphs">Mutated</text>
<text x="76.40" y="660.60" font-size="6.6" text-anchor="middle" font-weight="normal" fill="#1a1a1a">37</text>
<text x="91.83" y="660.60" font-size="6.6" text-anchor="middle" font-weight="normal" fill="#1a1a1a">18</text>
<text x="107.25" y="660.60" font-size="6.6" text-anchor="middle" font-weight="normal" fill="#1a1a1a">10</text>
<text x="122.68" y="660.60" font-size="6.6" text-anchor="middle" font-weight="normal" fill="#1a1a1a">6</text>
<text x="138.11" y="660.60" font-size="6.6" text-anchor="middle" font-weight="normal" fill="#1a1a1a">4</text>
<text x="153.54" y="660.60" font-size="6.6" text-anchor="middle" font-weight="normal" fill="#1a1a1a">4</text>
<text x="168.96" y="660.60" font-size="6.6" text-anchor="middle" font-weight="normal" fill="#1a1a1a">4</text>
<text x="184.39" y="660.60" font-size="6.6" text-anchor="middle" font-weight="normal" fill="#1a1a1a">3</text>
<text x="199.82" y="660.60" font-size="6.6" text-anchor="middle" font-weight="normal" fill="#1a1a1a">3</text>
<text x="215.25" y="660.60" font-size="6.6" text-anchor="middle" font-weight="normal" fill="#1a1a1a">3</text>
<text x="230.67" y="660.60" font-size="6.6" text-anchor="middle" font-weight="normal" fill="#1a1a1a">2</text>
<text x="246.10" y="660.60" font-size="6.6" text-anchor="middle" font-weight="normal" fill="#1a1a1a">0</text>
<text transform="translate(27.20,654.00) rotate(-90)" x="0" y="0" font-size="9.3" text-anchor="middle" fill="#1a1a1a" textLength="27.6" lengthAdjust="spacingAndGlyphs">DNMT3A</text>
<text x="158.73" y="689.80" font-size="8.9" text-anchor="middle" font-weight="normal" fill="#1a1a1a" textLength="71.5" lengthAdjust="spacingAndGlyphs">Time from CR (months)</text>
<text x="372.30" y="23.20" font-size="6.95" text-anchor="start" font-weight="normal" fill="#1a1a1a" textLength="25.4" lengthAdjust="spacingAndGlyphs">TM AML</text>
<text x="422.10" y="23.20" font-size="7.0" text-anchor="start" font-weight="normal" fill="#1a1a1a" textLength="9.2" lengthAdjust="spacingAndGlyphs">No</text>
<text x="450.60" y="23.20" font-size="7.0" text-anchor="start" font-weight="normal" fill="#1a1a1a" textLength="10.6" lengthAdjust="spacingAndGlyphs">Yes</text>
<line x1="411.70" y1="21.00" x2="419.40" y2="21.00" stroke="#a8123e" stroke-width="1.0" opacity="0.85"/>
<line x1="415.55" y1="19.80" x2="415.55" y2="22.20" stroke="#a8123e" stroke-width="0.7" opacity="0.7"/>
<line x1="440.40" y1="21.00" x2="447.70" y2="21.00" stroke="#a8123e" stroke-width="1.0" stroke-dasharray="1.0,1.6,2.2,1.0,1.9" opacity="0.6"/>
<line x1="444.05" y1="19.80" x2="444.05" y2="22.20" stroke="#a8123e" stroke-width="0.7" opacity="0.5"/>
<line x1="323.00" y1="27.90" x2="323.00" y2="135.85" stroke="#000" stroke-width="1.2"/>
<line x1="319.70" y1="130.30" x2="323.00" y2="130.30" stroke="#000" stroke-width="0.95"/>
<text x="317.30" y="132.65" font-size="6.8" text-anchor="end" font-weight="normal" fill="#1a1a1a">0.00</text>
<line x1="319.70" y1="105.80" x2="323.00" y2="105.80" stroke="#000" stroke-width="0.95"/>
<text x="317.30" y="108.15" font-size="6.8" text-anchor="end" font-weight="normal" fill="#1a1a1a">0.25</text>
<line x1="319.70" y1="81.30" x2="323.00" y2="81.30" stroke="#000" stroke-width="0.95"/>
<text x="317.30" y="83.65" font-size="6.8" text-anchor="end" font-weight="normal" fill="#1a1a1a">0.50</text>
<line x1="319.70" y1="56.80" x2="323.00" y2="56.80" stroke="#000" stroke-width="0.95"/>
<text x="317.30" y="59.15" font-size="6.8" text-anchor="end" font-weight="normal" fill="#1a1a1a">0.75</text>
<line x1="319.70" y1="32.30" x2="323.00" y2="32.30" stroke="#000" stroke-width="0.95"/>
<text x="317.30" y="34.65" font-size="6.8" text-anchor="end" font-weight="normal" fill="#1a1a1a">1.00</text>
<line x1="322.40" y1="135.25" x2="509.90" y2="135.25" stroke="#000" stroke-width="1.2"/>
<line x1="331.40" y1="135.25" x2="331.40" y2="138.65" stroke="#000" stroke-width="0.95"/>
<text x="331.40" y="147.30" font-size="6.6" text-anchor="middle" font-weight="normal" fill="#1a1a1a">0</text>
<line x1="347.33" y1="135.25" x2="347.33" y2="138.65" stroke="#000" stroke-width="0.95"/>
<text x="347.33" y="147.30" font-size="6.6" text-anchor="middle" font-weight="normal" fill="#1a1a1a">6</text>
<line x1="363.25" y1="135.25" x2="363.25" y2="138.65" stroke="#000" stroke-width="0.95"/>
<text x="363.25" y="147.30" font-size="6.6" text-anchor="middle" font-weight="normal" fill="#1a1a1a">12</text>
<line x1="379.18" y1="135.25" x2="379.18" y2="138.65" stroke="#000" stroke-width="0.95"/>
<text x="379.18" y="147.30" font-size="6.6" text-anchor="middle" font-weight="normal" fill="#1a1a1a">18</text>
<line x1="395.11" y1="135.25" x2="395.11" y2="138.65" stroke="#000" stroke-width="0.95"/>
<text x="395.11" y="147.30" font-size="6.6" text-anchor="middle" font-weight="normal" fill="#1a1a1a">24</text>
<line x1="411.04" y1="135.25" x2="411.04" y2="138.65" stroke="#000" stroke-width="0.95"/>
<text x="411.04" y="147.30" font-size="6.6" text-anchor="middle" font-weight="normal" fill="#1a1a1a">30</text>
<line x1="426.96" y1="135.25" x2="426.96" y2="138.65" stroke="#000" stroke-width="0.95"/>
<text x="426.96" y="147.30" font-size="6.6" text-anchor="middle" font-weight="normal" fill="#1a1a1a">36</text>
<line x1="442.89" y1="135.25" x2="442.89" y2="138.65" stroke="#000" stroke-width="0.95"/>
<text x="442.89" y="147.30" font-size="6.6" text-anchor="middle" font-weight="normal" fill="#1a1a1a">42</text>
<line x1="458.82" y1="135.25" x2="458.82" y2="138.65" stroke="#000" stroke-width="0.95"/>
<text x="458.82" y="147.30" font-size="6.6" text-anchor="middle" font-weight="normal" fill="#1a1a1a">48</text>
<line x1="474.75" y1="135.25" x2="474.75" y2="138.65" stroke="#000" stroke-width="0.95"/>
<text x="474.75" y="147.30" font-size="6.6" text-anchor="middle" font-weight="normal" fill="#1a1a1a">54</text>
<line x1="490.67" y1="135.25" x2="490.67" y2="138.65" stroke="#000" stroke-width="0.95"/>
<text x="490.67" y="147.30" font-size="6.6" text-anchor="middle" font-weight="normal" fill="#1a1a1a">60</text>
<line x1="506.60" y1="135.25" x2="506.60" y2="138.65" stroke="#000" stroke-width="0.95"/>
<text x="506.60" y="147.30" font-size="6.6" text-anchor="middle" font-weight="normal" fill="#1a1a1a">66</text>
<text transform="translate(298.40,81.00) rotate(-90)" x="0" y="0" font-size="9.3" text-anchor="middle" fill="#1a1a1a" textLength="59.3" lengthAdjust="spacingAndGlyphs">Overall survival (%)</text>
<text x="407.30" y="58.80" font-size="6.8" text-anchor="start" font-weight="normal" fill="#1a1a1a">p = 0.011</text>
<text x="416.25" y="159.50" font-size="8.9" text-anchor="middle" font-weight="normal" fill="#1a1a1a" textLength="45.6" lengthAdjust="spacingAndGlyphs">Time (months)</text>
<text x="323.00" y="166.40" font-size="6.85" text-anchor="start" font-weight="normal" fill="#1a1a1a" textLength="44.5" lengthAdjust="spacingAndGlyphs">Number at risk</text>
<line x1="323.00" y1="171.50" x2="323.00" y2="193.25" stroke="#000" stroke-width="1.2"/>
<line x1="322.40" y1="192.65" x2="509.90" y2="192.65" stroke="#000" stroke-width="1.2"/>
<line x1="331.40" y1="192.65" x2="331.40" y2="196.05" stroke="#000" stroke-width="0.95"/>
<text x="331.40" y="204.70" font-size="6.6" text-anchor="middle" font-weight="normal" fill="#1a1a1a">0</text>
<line x1="347.33" y1="192.65" x2="347.33" y2="196.05" stroke="#000" stroke-width="0.95"/>
<text x="347.33" y="204.70" font-size="6.6" text-anchor="middle" font-weight="normal" fill="#1a1a1a">6</text>
<line x1="363.25" y1="192.65" x2="363.25" y2="196.05" stroke="#000" stroke-width="0.95"/>
<text x="363.25" y="204.70" font-size="6.6" text-anchor="middle" font-weight="normal" fill="#1a1a1a">12</text>
<line x1="379.18" y1="192.65" x2="379.18" y2="196.05" stroke="#000" stroke-width="0.95"/>
<text x="379.18" y="204.70" font-size="6.6" text-anchor="middle" font-weight="normal" fill="#1a1a1a">18</text>
<line x1="395.11" y1="192.65" x2="395.11" y2="196.05" stroke="#000" stroke-width="0.95"/>
<text x="395.11" y="204.70" font-size="6.6" text-anchor="middle" font-weight="normal" fill="#1a1a1a">24</text>
<line x1="411.04" y1="192.65" x2="411.04" y2="196.05" stroke="#000" stroke-width="0.95"/>
<text x="411.04" y="204.70" font-size="6.6" text-anchor="middle" font-weight="normal" fill="#1a1a1a">30</text>
<line x1="426.96" y1="192.65" x2="426.96" y2="196.05" stroke="#000" stroke-width="0.95"/>
<text x="426.96" y="204.70" font-size="6.6" text-anchor="middle" font-weight="normal" fill="#1a1a1a">36</text>
<line x1="442.89" y1="192.65" x2="442.89" y2="196.05" stroke="#000" stroke-width="0.95"/>
<text x="442.89" y="204.70" font-size="6.6" text-anchor="middle" font-weight="normal" fill="#1a1a1a">42</text>
<line x1="458.82" y1="192.65" x2="458.82" y2="196.05" stroke="#000" stroke-width="0.95"/>
<text x="458.82" y="204.70" font-size="6.6" text-anchor="middle" font-weight="normal" fill="#1a1a1a">48</text>
<line x1="474.75" y1="192.65" x2="474.75" y2="196.05" stroke="#000" stroke-width="0.95"/>
<text x="474.75" y="204.70" font-size="6.6" text-anchor="middle" font-weight="normal" fill="#1a1a1a">54</text>
<line x1="490.67" y1="192.65" x2="490.67" y2="196.05" stroke="#000" stroke-width="0.95"/>
<text x="490.67" y="204.70" font-size="6.6" text-anchor="middle" font-weight="normal" fill="#1a1a1a">60</text>
<line x1="506.60" y1="192.65" x2="506.60" y2="196.05" stroke="#000" stroke-width="0.95"/>
<text x="506.60" y="204.70" font-size="6.6" text-anchor="middle" font-weight="normal" fill="#1a1a1a">66</text>
<line x1="319.70" y1="178.10" x2="323.00" y2="178.10" stroke="#000" stroke-width="0.95"/>
<text x="316.70" y="180.45" font-size="6.9" text-anchor="end" font-weight="normal" fill="#1a1a1a">No</text>
<text x="331.40" y="180.45" font-size="6.6" text-anchor="middle" font-weight="normal" fill="#1a1a1a">472</text>
<text x="347.33" y="180.45" font-size="6.6" text-anchor="middle" font-weight="normal" fill="#1a1a1a">243</text>
<text x="363.25" y="180.45" font-size="6.6" text-anchor="middle" font-weight="normal" fill="#1a1a1a">164</text>
<text x="379.18" y="180.45" font-size="6.6" text-anchor="middle" font-weight="normal" fill="#1a1a1a">125</text>
<text x="395.11" y="180.45" font-size="6.6" text-anchor="middle" font-weight="normal" fill="#1a1a1a">98</text>
<text x="411.04" y="180.45" font-size="6.6" text-anchor="middle" font-weight="normal" fill="#1a1a1a">83</text>
<text x="426.96" y="180.45" font-size="6.6" text-anchor="middle" font-weight="normal" fill="#1a1a1a">66</text>
<text x="442.89" y="180.45" font-size="6.6" text-anchor="middle" font-weight="normal" fill="#1a1a1a">57</text>
<text x="458.82" y="180.45" font-size="6.6" text-anchor="middle" font-weight="normal" fill="#1a1a1a">49</text>
<text x="474.75" y="180.45" font-size="6.6" text-anchor="middle" font-weight="normal" fill="#1a1a1a">43</text>
<text x="490.67" y="180.45" font-size="6.6" text-anchor="middle" font-weight="normal" fill="#1a1a1a">35</text>
<text x="506.60" y="180.45" font-size="6.6" text-anchor="middle" font-weight="normal" fill="#1a1a1a">28</text>
<line x1="319.70" y1="186.10" x2="323.00" y2="186.10" stroke="#000" stroke-width="0.95"/>
<text x="316.70" y="188.45" font-size="6.9" text-anchor="end" font-weight="normal" fill="#1a1a1a">Yes</text>
<text x="331.40" y="188.45" font-size="6.6" text-anchor="middle" font-weight="normal" fill="#1a1a1a">35</text>
<text x="347.33" y="188.45" font-size="6.6" text-anchor="middle" font-weight="normal" fill="#1a1a1a">21</text>
<text x="363.25" y="188.45" font-size="6.6" text-anchor="middle" font-weight="normal" fill="#1a1a1a">8</text>
<text x="379.18" y="188.45" font-size="6.6" text-anchor="middle" font-weight="normal" fill="#1a1a1a">4</text>
<text x="395.11" y="188.45" font-size="6.6" text-anchor="middle" font-weight="normal" fill="#1a1a1a">2</text>
<text x="411.04" y="188.45" font-size="6.6" text-anchor="middle" font-weight="normal" fill="#1a1a1a">2</text>
<text x="426.96" y="188.45" font-size="6.6" text-anchor="middle" font-weight="normal" fill="#1a1a1a">2</text>
<text x="442.89" y="188.45" font-size="6.6" text-anchor="middle" font-weight="normal" fill="#1a1a1a">1</text>
<text x="458.82" y="188.45" font-size="6.6" text-anchor="middle" font-weight="normal" fill="#1a1a1a">1</text>
<text x="474.75" y="188.45" font-size="6.6" text-anchor="middle" font-weight="normal" fill="#1a1a1a">1</text>
<text x="490.67" y="188.45" font-size="6.6" text-anchor="middle" font-weight="normal" fill="#1a1a1a">1</text>
<text x="506.60" y="188.45" font-size="6.6" text-anchor="middle" font-weight="normal" fill="#1a1a1a">0</text>
<text transform="translate(301.40,182.00) rotate(-90)" x="0" y="0" font-size="9.3" text-anchor="middle" fill="#1a1a1a" textLength="24.8" lengthAdjust="spacingAndGlyphs">TM AML</text>
<text x="416.25" y="217.10" font-size="8.9" text-anchor="middle" font-weight="normal" fill="#1a1a1a" textLength="45.6" lengthAdjust="spacingAndGlyphs">Time (months)</text>
<text x="372.30" y="242.00" font-size="6.95" text-anchor="start" font-weight="normal" fill="#1a1a1a" textLength="25.4" lengthAdjust="spacingAndGlyphs">TM AML</text>
<text x="422.10" y="242.00" font-size="7.0" text-anchor="start" font-weight="normal" fill="#1a1a1a" textLength="9.2" lengthAdjust="spacingAndGlyphs">No</text>
<text x="450.60" y="242.00" font-size="7.0" text-anchor="start" font-weight="normal" fill="#1a1a1a" textLength="10.6" lengthAdjust="spacingAndGlyphs">Yes</text>
<line x1="411.70" y1="239.80" x2="419.40" y2="239.80" stroke="#a8123e" stroke-width="1.0" opacity="0.85"/>
<line x1="415.55" y1="238.60" x2="415.55" y2="241.00" stroke="#a8123e" stroke-width="0.7" opacity="0.7"/>
<line x1="440.40" y1="239.80" x2="447.70" y2="239.80" stroke="#a8123e" stroke-width="1.0" stroke-dasharray="1.0,1.6,2.2,1.0,1.9" opacity="0.6"/>
<line x1="444.05" y1="238.60" x2="444.05" y2="241.00" stroke="#a8123e" stroke-width="0.7" opacity="0.5"/>
<line x1="323.00" y1="246.20" x2="323.00" y2="320.85" stroke="#000" stroke-width="1.2"/>
<line x1="319.70" y1="317.30" x2="323.00" y2="317.30" stroke="#000" stroke-width="0.95"/>
<text x="317.30" y="319.65" font-size="6.8" text-anchor="end" font-weight="normal" fill="#1a1a1a">0.00</text>
<line x1="319.70" y1="300.32" x2="323.00" y2="300.32" stroke="#000" stroke-width="0.95"/>
<text x="317.30" y="302.68" font-size="6.8" text-anchor="end" font-weight="normal" fill="#1a1a1a">0.25</text>
<line x1="319.70" y1="283.35" x2="323.00" y2="283.35" stroke="#000" stroke-width="0.95"/>
<text x="317.30" y="285.70" font-size="6.8" text-anchor="end" font-weight="normal" fill="#1a1a1a">0.50</text>
<line x1="319.70" y1="266.38" x2="323.00" y2="266.38" stroke="#000" stroke-width="0.95"/>
<text x="317.30" y="268.73" font-size="6.8" text-anchor="end" font-weight="normal" fill="#1a1a1a">0.75</text>
<line x1="319.70" y1="249.40" x2="323.00" y2="249.40" stroke="#000" stroke-width="0.95"/>
<text x="317.30" y="251.75" font-size="6.8" text-anchor="end" font-weight="normal" fill="#1a1a1a">1.00</text>
<line x1="322.40" y1="320.25" x2="509.90" y2="320.25" stroke="#000" stroke-width="1.2"/>
<line x1="331.40" y1="320.25" x2="331.40" y2="323.65" stroke="#000" stroke-width="0.95"/>
<text x="331.40" y="332.60" font-size="6.6" text-anchor="middle" font-weight="normal" fill="#1a1a1a">0</text>
<line x1="347.33" y1="320.25" x2="347.33" y2="323.65" stroke="#000" stroke-width="0.95"/>
<text x="347.33" y="332.60" font-size="6.6" text-anchor="middle" font-weight="normal" fill="#1a1a1a">6</text>
<line x1="363.25" y1="320.25" x2="363.25" y2="323.65" stroke="#000" stroke-width="0.95"/>
<text x="363.25" y="332.60" font-size="6.6" text-anchor="middle" font-weight="normal" fill="#1a1a1a">12</text>
<line x1="379.18" y1="320.25" x2="379.18" y2="323.65" stroke="#000" stroke-width="0.95"/>
<text x="379.18" y="332.60" font-size="6.6" text-anchor="middle" font-weight="normal" fill="#1a1a1a">18</text>
<line x1="395.11" y1="320.25" x2="395.11" y2="323.65" stroke="#000" stroke-width="0.95"/>
<text x="395.11" y="332.60" font-size="6.6" text-anchor="middle" font-weight="normal" fill="#1a1a1a">24</text>
<line x1="411.04" y1="320.25" x2="411.04" y2="323.65" stroke="#000" stroke-width="0.95"/>
<text x="411.04" y="332.60" font-size="6.6" text-anchor="middle" font-weight="normal" fill="#1a1a1a">30</text>
<line x1="426.96" y1="320.25" x2="426.96" y2="323.65" stroke="#000" stroke-width="0.95"/>
<text x="426.96" y="332.60" font-size="6.6" text-anchor="middle" font-weight="normal" fill="#1a1a1a">36</text>
<line x1="442.89" y1="320.25" x2="442.89" y2="323.65" stroke="#000" stroke-width="0.95"/>
<text x="442.89" y="332.60" font-size="6.6" text-anchor="middle" font-weight="normal" fill="#1a1a1a">42</text>
<line x1="458.82" y1="320.25" x2="458.82" y2="323.65" stroke="#000" stroke-width="0.95"/>
<text x="458.82" y="332.60" font-size="6.6" text-anchor="middle" font-weight="normal" fill="#1a1a1a">48</text>
<line x1="474.75" y1="320.25" x2="474.75" y2="323.65" stroke="#000" stroke-width="0.95"/>
<text x="474.75" y="332.60" font-size="6.6" text-anchor="middle" font-weight="normal" fill="#1a1a1a">54</text>
<line x1="490.67" y1="320.25" x2="490.67" y2="323.65" stroke="#000" stroke-width="0.95"/>
<text x="490.67" y="332.60" font-size="6.6" text-anchor="middle" font-weight="normal" fill="#1a1a1a">60</text>
<line x1="506.60" y1="320.25" x2="506.60" y2="323.65" stroke="#000" stroke-width="0.95"/>
<text x="506.60" y="332.60" font-size="6.6" text-anchor="middle" font-weight="normal" fill="#1a1a1a">66</text>
<text transform="translate(287.90,285.05) rotate(-90)" x="0" y="0" font-size="9.0" text-anchor="middle" fill="#1a1a1a" textLength="63.1" lengthAdjust="spacingAndGlyphs">Cumulative incidence</text>
<text transform="translate(298.60,284.75) rotate(-90)" x="0" y="0" font-size="9.0" text-anchor="middle" fill="#1a1a1a" textLength="41.9" lengthAdjust="spacingAndGlyphs">of relapse (%)</text>
<text x="404.80" y="305.30" font-size="6.8" text-anchor="start" font-weight="normal" fill="#1a1a1a">p &lt; 0.0001</text>
<text x="416.25" y="344.60" font-size="8.9" text-anchor="middle" font-weight="normal" fill="#1a1a1a" textLength="71.5" lengthAdjust="spacingAndGlyphs">Time from CR (months)</text>
<text x="323.00" y="352.00" font-size="6.85" text-anchor="start" font-weight="normal" fill="#1a1a1a" textLength="44.5" lengthAdjust="spacingAndGlyphs">Number at risk</text>
<line x1="323.00" y1="356.90" x2="323.00" y2="378.80" stroke="#000" stroke-width="1.2"/>
<line x1="322.40" y1="378.20" x2="509.90" y2="378.20" stroke="#000" stroke-width="1.2"/>
<line x1="331.40" y1="378.20" x2="331.40" y2="381.60" stroke="#000" stroke-width="0.95"/>
<text x="331.40" y="390.60" font-size="6.6" text-anchor="middle" font-weight="normal" fill="#1a1a1a">0</text>
<line x1="347.33" y1="378.20" x2="347.33" y2="381.60" stroke="#000" stroke-width="0.95"/>
<text x="347.33" y="390.60" font-size="6.6" text-anchor="middle" font-weight="normal" fill="#1a1a1a">6</text>
<line x1="363.25" y1="378.20" x2="363.25" y2="381.60" stroke="#000" stroke-width="0.95"/>
<text x="363.25" y="390.60" font-size="6.6" text-anchor="middle" font-weight="normal" fill="#1a1a1a">12</text>
<line x1="379.18" y1="378.20" x2="379.18" y2="381.60" stroke="#000" stroke-width="0.95"/>
<text x="379.18" y="390.60" font-size="6.6" text-anchor="middle" font-weight="normal" fill="#1a1a1a">18</text>
<line x1="395.11" y1="378.20" x2="395.11" y2="381.60" stroke="#000" stroke-width="0.95"/>
<text x="395.11" y="390.60" font-size="6.6" text-anchor="middle" font-weight="normal" fill="#1a1a1a">24</text>
<line x1="411.04" y1="378.20" x2="411.04" y2="381.60" stroke="#000" stroke-width="0.95"/>
<text x="411.04" y="390.60" font-size="6.6" text-anchor="middle" font-weight="normal" fill="#1a1a1a">30</text>
<line x1="426.96" y1="378.20" x2="426.96" y2="381.60" stroke="#000" stroke-width="0.95"/>
<text x="426.96" y="390.60" font-size="6.6" text-anchor="middle" font-weight="normal" fill="#1a1a1a">36</text>
<line x1="442.89" y1="378.20" x2="442.89" y2="381.60" stroke="#000" stroke-width="0.95"/>
<text x="442.89" y="390.60" font-size="6.6" text-anchor="middle" font-weight="normal" fill="#1a1a1a">42</text>
<line x1="458.82" y1="378.20" x2="458.82" y2="381.60" stroke="#000" stroke-width="0.95"/>
<text x="458.82" y="390.60" font-size="6.6" text-anchor="middle" font-weight="normal" fill="#1a1a1a">48</text>
<line x1="474.75" y1="378.20" x2="474.75" y2="381.60" stroke="#000" stroke-width="0.95"/>
<text x="474.75" y="390.60" font-size="6.6" text-anchor="middle" font-weight="normal" fill="#1a1a1a">54</text>
<line x1="490.67" y1="378.20" x2="490.67" y2="381.60" stroke="#000" stroke-width="0.95"/>
<text x="490.67" y="390.60" font-size="6.6" text-anchor="middle" font-weight="normal" fill="#1a1a1a">60</text>
<line x1="506.60" y1="378.20" x2="506.60" y2="381.60" stroke="#000" stroke-width="0.95"/>
<text x="506.60" y="390.60" font-size="6.6" text-anchor="middle" font-weight="normal" fill="#1a1a1a">66</text>
<line x1="319.70" y1="363.60" x2="323.00" y2="363.60" stroke="#000" stroke-width="0.95"/>
<text x="316.70" y="365.95" font-size="6.9" text-anchor="end" font-weight="normal" fill="#1a1a1a">No</text>
<text x="331.40" y="365.95" font-size="6.6" text-anchor="middle" font-weight="normal" fill="#1a1a1a">277</text>
<text x="347.33" y="365.95" font-size="6.6" text-anchor="middle" font-weight="normal" fill="#1a1a1a">168</text>
<text x="363.25" y="365.95" font-size="6.6" text-anchor="middle" font-weight="normal" fill="#1a1a1a">117</text>
<text x="379.18" y="365.95" font-size="6.6" text-anchor="middle" font-weight="normal" fill="#1a1a1a">91</text>
<text x="395.11" y="365.95" font-size="6.6" text-anchor="middle" font-weight="normal" fill="#1a1a1a">74</text>
<text x="411.04" y="365.95" font-size="6.6" text-anchor="middle" font-weight="normal" fill="#1a1a1a">63</text>
<text x="426.96" y="365.95" font-size="6.6" text-anchor="middle" font-weight="normal" fill="#1a1a1a">48</text>
<text x="442.89" y="365.95" font-size="6.6" text-anchor="middle" font-weight="normal" fill="#1a1a1a">44</text>
<text x="458.82" y="365.95" font-size="6.6" text-anchor="middle" font-weight="normal" fill="#1a1a1a">39</text>
<text x="474.75" y="365.95" font-size="6.6" text-anchor="middle" font-weight="normal" fill="#1a1a1a">34</text>
<text x="490.67" y="365.95" font-size="6.6" text-anchor="middle" font-weight="normal" fill="#1a1a1a">29</text>
<text x="506.60" y="365.95" font-size="6.6" text-anchor="middle" font-weight="normal" fill="#1a1a1a">25</text>
<line x1="319.70" y1="371.60" x2="323.00" y2="371.60" stroke="#000" stroke-width="0.95"/>
<text x="316.70" y="373.95" font-size="6.9" text-anchor="end" font-weight="normal" fill="#1a1a1a">Yes</text>
<text x="331.40" y="373.95" font-size="6.6" text-anchor="middle" font-weight="normal" fill="#1a1a1a">24</text>
<text x="347.33" y="373.95" font-size="6.6" text-anchor="middle" font-weight="normal" fill="#1a1a1a">10</text>
<text x="363.25" y="373.95" font-size="6.6" text-anchor="middle" font-weight="normal" fill="#1a1a1a">4</text>
<text x="379.18" y="373.95" font-size="6.6" text-anchor="middle" font-weight="normal" fill="#1a1a1a">2</text>
<text x="395.11" y="373.95" font-size="6.6" text-anchor="middle" font-weight="normal" fill="#1a1a1a">1</text>
<text x="411.04" y="373.95" font-size="6.6" text-anchor="middle" font-weight="normal" fill="#1a1a1a">1</text>
<text x="426.96" y="373.95" font-size="6.6" text-anchor="middle" font-weight="normal" fill="#1a1a1a">1</text>
<text x="442.89" y="373.95" font-size="6.6" text-anchor="middle" font-weight="normal" fill="#1a1a1a">1</text>
<text x="458.82" y="373.95" font-size="6.6" text-anchor="middle" font-weight="normal" fill="#1a1a1a">1</text>
<text x="474.75" y="373.95" font-size="6.6" text-anchor="middle" font-weight="normal" fill="#1a1a1a">1</text>
<text x="490.67" y="373.95" font-size="6.6" text-anchor="middle" font-weight="normal" fill="#1a1a1a">1</text>
<text x="506.60" y="373.95" font-size="6.6" text-anchor="middle" font-weight="normal" fill="#1a1a1a">0</text>
<text transform="translate(301.40,367.50) rotate(-90)" x="0" y="0" font-size="9.3" text-anchor="middle" fill="#1a1a1a" textLength="24.8" lengthAdjust="spacingAndGlyphs">TM AML</text>
<text x="416.25" y="403.10" font-size="8.9" text-anchor="middle" font-weight="normal" fill="#1a1a1a" textLength="71.5" lengthAdjust="spacingAndGlyphs">Time from CR (months)</text>
<text x="323.00" y="416.50" font-size="6.83" text-anchor="start" font-weight="normal" fill="#1a1a1a" textLength="88.8" lengthAdjust="spacingAndGlyphs">Cumulative number of events</text>
<line x1="323.00" y1="421.10" x2="323.00" y2="443.05" stroke="#000" stroke-width="1.2"/>
<line x1="322.40" y1="442.45" x2="509.90" y2="442.45" stroke="#000" stroke-width="1.2"/>
<line x1="331.40" y1="442.45" x2="331.40" y2="445.85" stroke="#000" stroke-width="0.95"/>
<text x="331.40" y="454.80" font-size="6.6" text-anchor="middle" font-weight="normal" fill="#1a1a1a">0</text>
<line x1="347.33" y1="442.45" x2="347.33" y2="445.85" stroke="#000" stroke-width="0.95"/>
<text x="347.33" y="454.80" font-size="6.6" text-anchor="middle" font-weight="normal" fill="#1a1a1a">6</text>
<line x1="363.25" y1="442.45" x2="363.25" y2="445.85" stroke="#000" stroke-width="0.95"/>
<text x="363.25" y="454.80" font-size="6.6" text-anchor="middle" font-weight="normal" fill="#1a1a1a">12</text>
<line x1="379.18" y1="442.45" x2="379.18" y2="445.85" stroke="#000" stroke-width="0.95"/>
<text x="379.18" y="454.80" font-size="6.6" text-anchor="middle" font-weight="normal" fill="#1a1a1a">18</text>
<line x1="395.11" y1="442.45" x2="395.11" y2="445.85" stroke="#000" stroke-width="0.95"/>
<text x="395.11" y="454.80" font-size="6.6" text-anchor="middle" font-weight="normal" fill="#1a1a1a">24</text>
<line x1="411.04" y1="442.45" x2="411.04" y2="445.85" stroke="#000" stroke-width="0.95"/>
<text x="411.04" y="454.80" font-size="6.6" text-anchor="middle" font-weight="normal" fill="#1a1a1a">30</text>
<line x1="426.96" y1="442.45" x2="426.96" y2="445.85" stroke="#000" stroke-width="0.95"/>
<text x="426.96" y="454.80" font-size="6.6" text-anchor="middle" font-weight="normal" fill="#1a1a1a">36</text>
<line x1="442.89" y1="442.45" x2="442.89" y2="445.85" stroke="#000" stroke-width="0.95"/>
<text x="442.89" y="454.80" font-size="6.6" text-anchor="middle" font-weight="normal" fill="#1a1a1a">42</text>
<line x1="458.82" y1="442.45" x2="458.82" y2="445.85" stroke="#000" stroke-width="0.95"/>
<text x="458.82" y="454.80" font-size="6.6" text-anchor="middle" font-weight="normal" fill="#1a1a1a">48</text>
<line x1="474.75" y1="442.45" x2="474.75" y2="445.85" stroke="#000" stroke-width="0.95"/>
<text x="474.75" y="454.80" font-size="6.6" text-anchor="middle" font-weight="normal" fill="#1a1a1a">54</text>
<line x1="490.67" y1="442.45" x2="490.67" y2="445.85" stroke="#000" stroke-width="0.95"/>
<text x="490.67" y="454.80" font-size="6.6" text-anchor="middle" font-weight="normal" fill="#1a1a1a">60</text>
<line x1="506.60" y1="442.45" x2="506.60" y2="445.85" stroke="#000" stroke-width="0.95"/>
<text x="506.60" y="454.80" font-size="6.6" text-anchor="middle" font-weight="normal" fill="#1a1a1a">66</text>
<line x1="319.70" y1="427.80" x2="323.00" y2="427.80" stroke="#000" stroke-width="0.95"/>
<text x="316.70" y="430.15" font-size="6.9" text-anchor="end" font-weight="normal" fill="#1a1a1a">No</text>
<text x="331.40" y="430.15" font-size="6.6" text-anchor="middle" font-weight="normal" fill="#1a1a1a">0</text>
<text x="347.33" y="430.15" font-size="6.6" text-anchor="middle" font-weight="normal" fill="#1a1a1a">40</text>
<text x="363.25" y="430.15" font-size="6.6" text-anchor="middle" font-weight="normal" fill="#1a1a1a">79</text>
<text x="379.18" y="430.15" font-size="6.6" text-anchor="middle" font-weight="normal" fill="#1a1a1a">94</text>
<text x="395.11" y="430.15" font-size="6.6" text-anchor="middle" font-weight="normal" fill="#1a1a1a">102</text>
<text x="411.04" y="430.15" font-size="6.6" text-anchor="middle" font-weight="normal" fill="#1a1a1a">104</text>
<text x="426.96" y="430.15" font-size="6.6" text-anchor="middle" font-weight="normal" fill="#1a1a1a">109</text>
<text x="442.89" y="430.15" font-size="6.6" text-anchor="middle" font-weight="normal" fill="#1a1a1a">110</text>
<text x="458.82" y="430.15" font-size="6.6" text-anchor="middle" font-weight="normal" fill="#1a1a1a">110</text>
<text x="474.75" y="430.15" font-size="6.6" text-anchor="middle" font-weight="normal" fill="#1a1a1a">110</text>
<text x="490.67" y="430.15" font-size="6.6" text-anchor="middle" font-weight="normal" fill="#1a1a1a">110</text>
<text x="506.60" y="430.15" font-size="6.6" text-anchor="middle" font-weight="normal" fill="#1a1a1a">110</text>
<line x1="319.70" y1="435.90" x2="323.00" y2="435.90" stroke="#000" stroke-width="0.95"/>
<text x="316.70" y="438.25" font-size="6.9" text-anchor="end" font-weight="normal" fill="#1a1a1a">Yes</text>
<text x="331.40" y="438.25" font-size="6.6" text-anchor="middle" font-weight="normal" fill="#1a1a1a">0</text>
<text x="347.33" y="438.25" font-size="6.6" text-anchor="middle" font-weight="normal" fill="#1a1a1a">12</text>
<text x="363.25" y="438.25" font-size="6.6" text-anchor="middle" font-weight="normal" fill="#1a1a1a">18</text>
<text x="379.18" y="438.25" font-size="6.6" text-anchor="middle" font-weight="normal" fill="#1a1a1a">20</text>
<text x="395.11" y="438.25" font-size="6.6" text-anchor="middle" font-weight="normal" fill="#1a1a1a">21</text>
<text x="411.04" y="438.25" font-size="6.6" text-anchor="middle" font-weight="normal" fill="#1a1a1a">21</text>
<text x="426.96" y="438.25" font-size="6.6" text-anchor="middle" font-weight="normal" fill="#1a1a1a">21</text>
<text x="442.89" y="438.25" font-size="6.6" text-anchor="middle" font-weight="normal" fill="#1a1a1a">21</text>
<text x="458.82" y="438.25" font-size="6.6" text-anchor="middle" font-weight="normal" fill="#1a1a1a">21</text>
<text x="474.75" y="438.25" font-size="6.6" text-anchor="middle" font-weight="normal" fill="#1a1a1a">21</text>
<text x="490.67" y="438.25" font-size="6.6" text-anchor="middle" font-weight="normal" fill="#1a1a1a">21</text>
<text x="506.60" y="438.25" font-size="6.6" text-anchor="middle" font-weight="normal" fill="#1a1a1a">21</text>
<text transform="translate(301.40,431.80) rotate(-90)" x="0" y="0" font-size="9.3" text-anchor="middle" fill="#1a1a1a" textLength="24.8" lengthAdjust="spacingAndGlyphs">TM AML</text>
<text x="416.25" y="467.40" font-size="8.9" text-anchor="middle" font-weight="normal" fill="#1a1a1a" textLength="71.5" lengthAdjust="spacingAndGlyphs">Time from CR (months)</text>
<text x="372.30" y="495.10" font-size="6.95" text-anchor="start" font-weight="normal" fill="#1a1a1a" textLength="25.4" lengthAdjust="spacingAndGlyphs">TM AML</text>
<text x="422.10" y="495.10" font-size="7.0" text-anchor="start" font-weight="normal" fill="#1a1a1a" textLength="9.2" lengthAdjust="spacingAndGlyphs">No</text>
<text x="450.60" y="495.10" font-size="7.0" text-anchor="start" font-weight="normal" fill="#1a1a1a" textLength="10.6" lengthAdjust="spacingAndGlyphs">Yes</text>
<line x1="411.70" y1="492.90" x2="419.40" y2="492.90" stroke="#a8123e" stroke-width="1.0" opacity="0.85"/>
<line x1="415.55" y1="491.70" x2="415.55" y2="494.10" stroke="#a8123e" stroke-width="0.7" opacity="0.7"/>
<line x1="440.40" y1="492.90" x2="447.70" y2="492.90" stroke="#a8123e" stroke-width="1.0" stroke-dasharray="1.0,1.6,2.2,1.0,1.9" opacity="0.6"/>
<line x1="444.05" y1="491.70" x2="444.05" y2="494.10" stroke="#a8123e" stroke-width="0.7" opacity="0.5"/>
<line x1="323.00" y1="499.70" x2="323.00" y2="607.60" stroke="#000" stroke-width="1.2"/>
<line x1="319.70" y1="602.00" x2="323.00" y2="602.00" stroke="#000" stroke-width="0.95"/>
<text x="317.30" y="604.35" font-size="6.8" text-anchor="end" font-weight="normal" fill="#1a1a1a">0.00</text>
<line x1="319.70" y1="577.48" x2="323.00" y2="577.48" stroke="#000" stroke-width="0.95"/>
<text x="317.30" y="579.83" font-size="6.8" text-anchor="end" font-weight="normal" fill="#1a1a1a">0.25</text>
<line x1="319.70" y1="552.95" x2="323.00" y2="552.95" stroke="#000" stroke-width="0.95"/>
<text x="317.30" y="555.30" font-size="6.8" text-anchor="end" font-weight="normal" fill="#1a1a1a">0.50</text>
<line x1="319.70" y1="528.42" x2="323.00" y2="528.42" stroke="#000" stroke-width="0.95"/>
<text x="317.30" y="530.77" font-size="6.8" text-anchor="end" font-weight="normal" fill="#1a1a1a">0.75</text>
<line x1="319.70" y1="503.90" x2="323.00" y2="503.90" stroke="#000" stroke-width="0.95"/>
<text x="317.30" y="506.25" font-size="6.8" text-anchor="end" font-weight="normal" fill="#1a1a1a">1.00</text>
<line x1="322.40" y1="607.00" x2="509.90" y2="607.00" stroke="#000" stroke-width="1.2"/>
<line x1="331.40" y1="607.00" x2="331.40" y2="610.40" stroke="#000" stroke-width="0.95"/>
<text x="331.40" y="618.80" font-size="6.6" text-anchor="middle" font-weight="normal" fill="#1a1a1a">0</text>
<line x1="347.33" y1="607.00" x2="347.33" y2="610.40" stroke="#000" stroke-width="0.95"/>
<text x="347.33" y="618.80" font-size="6.6" text-anchor="middle" font-weight="normal" fill="#1a1a1a">6</text>
<line x1="363.25" y1="607.00" x2="363.25" y2="610.40" stroke="#000" stroke-width="0.95"/>
<text x="363.25" y="618.80" font-size="6.6" text-anchor="middle" font-weight="normal" fill="#1a1a1a">12</text>
<line x1="379.18" y1="607.00" x2="379.18" y2="610.40" stroke="#000" stroke-width="0.95"/>
<text x="379.18" y="618.80" font-size="6.6" text-anchor="middle" font-weight="normal" fill="#1a1a1a">18</text>
<line x1="395.11" y1="607.00" x2="395.11" y2="610.40" stroke="#000" stroke-width="0.95"/>
<text x="395.11" y="618.80" font-size="6.6" text-anchor="middle" font-weight="normal" fill="#1a1a1a">24</text>
<line x1="411.04" y1="607.00" x2="411.04" y2="610.40" stroke="#000" stroke-width="0.95"/>
<text x="411.04" y="618.80" font-size="6.6" text-anchor="middle" font-weight="normal" fill="#1a1a1a">30</text>
<line x1="426.96" y1="607.00" x2="426.96" y2="610.40" stroke="#000" stroke-width="0.95"/>
<text x="426.96" y="618.80" font-size="6.6" text-anchor="middle" font-weight="normal" fill="#1a1a1a">36</text>
<line x1="442.89" y1="607.00" x2="442.89" y2="610.40" stroke="#000" stroke-width="0.95"/>
<text x="442.89" y="618.80" font-size="6.6" text-anchor="middle" font-weight="normal" fill="#1a1a1a">42</text>
<line x1="458.82" y1="607.00" x2="458.82" y2="610.40" stroke="#000" stroke-width="0.95"/>
<text x="458.82" y="618.80" font-size="6.6" text-anchor="middle" font-weight="normal" fill="#1a1a1a">48</text>
<line x1="474.75" y1="607.00" x2="474.75" y2="610.40" stroke="#000" stroke-width="0.95"/>
<text x="474.75" y="618.80" font-size="6.6" text-anchor="middle" font-weight="normal" fill="#1a1a1a">54</text>
<line x1="490.67" y1="607.00" x2="490.67" y2="610.40" stroke="#000" stroke-width="0.95"/>
<text x="490.67" y="618.80" font-size="6.6" text-anchor="middle" font-weight="normal" fill="#1a1a1a">60</text>
<line x1="506.60" y1="607.00" x2="506.60" y2="610.40" stroke="#000" stroke-width="0.95"/>
<text x="506.60" y="618.80" font-size="6.6" text-anchor="middle" font-weight="normal" fill="#1a1a1a">66</text>
<text transform="translate(298.50,553.20) rotate(-90)" x="0" y="0" font-size="9.3" text-anchor="middle" fill="#1a1a1a" textLength="75.8" lengthAdjust="spacingAndGlyphs">Disease-free survival (%)</text>
<text x="404.00" y="530.60" font-size="6.8" text-anchor="start" font-weight="normal" fill="#1a1a1a">p &lt; 0.0001</text>
<text x="416.25" y="631.70" font-size="8.9" text-anchor="middle" font-weight="normal" fill="#1a1a1a" textLength="71.5" lengthAdjust="spacingAndGlyphs">Time from CR (months)</text>
<text x="323.00" y="638.50" font-size="6.85" text-anchor="start" font-weight="normal" fill="#1a1a1a" textLength="44.5" lengthAdjust="spacingAndGlyphs">Number at risk</text>
<line x1="323.00" y1="643.80" x2="323.00" y2="665.40" stroke="#000" stroke-width="1.2"/>
<line x1="322.40" y1="664.80" x2="509.90" y2="664.80" stroke="#000" stroke-width="1.2"/>
<line x1="331.40" y1="664.80" x2="331.40" y2="668.20" stroke="#000" stroke-width="0.95"/>
<text x="331.40" y="676.70" font-size="6.6" text-anchor="middle" font-weight="normal" fill="#1a1a1a">0</text>
<line x1="347.33" y1="664.80" x2="347.33" y2="668.20" stroke="#000" stroke-width="0.95"/>
<text x="347.33" y="676.70" font-size="6.6" text-anchor="middle" font-weight="normal" fill="#1a1a1a">6</text>
<line x1="363.25" y1="664.80" x2="363.25" y2="668.20" stroke="#000" stroke-width="0.95"/>
<text x="363.25" y="676.70" font-size="6.6" text-anchor="middle" font-weight="normal" fill="#1a1a1a">12</text>
<line x1="379.18" y1="664.80" x2="379.18" y2="668.20" stroke="#000" stroke-width="0.95"/>
<text x="379.18" y="676.70" font-size="6.6" text-anchor="middle" font-weight="normal" fill="#1a1a1a">18</text>
<line x1="395.11" y1="664.80" x2="395.11" y2="668.20" stroke="#000" stroke-width="0.95"/>
<text x="395.11" y="676.70" font-size="6.6" text-anchor="middle" font-weight="normal" fill="#1a1a1a">24</text>
<line x1="411.04" y1="664.80" x2="411.04" y2="668.20" stroke="#000" stroke-width="0.95"/>
<text x="411.04" y="676.70" font-size="6.6" text-anchor="middle" font-weight="normal" fill="#1a1a1a">30</text>
<line x1="426.96" y1="664.80" x2="426.96" y2="668.20" stroke="#000" stroke-width="0.95"/>
<text x="426.96" y="676.70" font-size="6.6" text-anchor="middle" font-weight="normal" fill="#1a1a1a">36</text>
<line x1="442.89" y1="664.80" x2="442.89" y2="668.20" stroke="#000" stroke-width="0.95"/>
<text x="442.89" y="676.70" font-size="6.6" text-anchor="middle" font-weight="normal" fill="#1a1a1a">42</text>
<line x1="458.82" y1="664.80" x2="458.82" y2="668.20" stroke="#000" stroke-width="0.95"/>
<text x="458.82" y="676.70" font-size="6.6" text-anchor="middle" font-weight="normal" fill="#1a1a1a">48</text>
<line x1="474.75" y1="664.80" x2="474.75" y2="668.20" stroke="#000" stroke-width="0.95"/>
<text x="474.75" y="676.70" font-size="6.6" text-anchor="middle" font-weight="normal" fill="#1a1a1a">54</text>
<line x1="490.67" y1="664.80" x2="490.67" y2="668.20" stroke="#000" stroke-width="0.95"/>
<text x="490.67" y="676.70" font-size="6.6" text-anchor="middle" font-weight="normal" fill="#1a1a1a">60</text>
<line x1="506.60" y1="664.80" x2="506.60" y2="668.20" stroke="#000" stroke-width="0.95"/>
<text x="506.60" y="676.70" font-size="6.6" text-anchor="middle" font-weight="normal" fill="#1a1a1a">66</text>
<line x1="319.70" y1="650.10" x2="323.00" y2="650.10" stroke="#000" stroke-width="0.95"/>
<text x="316.70" y="652.45" font-size="6.9" text-anchor="end" font-weight="normal" fill="#1a1a1a">No</text>
<text x="331.40" y="652.45" font-size="6.6" text-anchor="middle" font-weight="normal" fill="#1a1a1a">273</text>
<text x="347.33" y="652.45" font-size="6.6" text-anchor="middle" font-weight="normal" fill="#1a1a1a">168</text>
<text x="363.25" y="652.45" font-size="6.6" text-anchor="middle" font-weight="normal" fill="#1a1a1a">117</text>
<text x="379.18" y="652.45" font-size="6.6" text-anchor="middle" font-weight="normal" fill="#1a1a1a">91</text>
<text x="395.11" y="652.45" font-size="6.6" text-anchor="middle" font-weight="normal" fill="#1a1a1a">74</text>
<text x="411.04" y="652.45" font-size="6.6" text-anchor="middle" font-weight="normal" fill="#1a1a1a">63</text>
<text x="426.96" y="652.45" font-size="6.6" text-anchor="middle" font-weight="normal" fill="#1a1a1a">48</text>
<text x="442.89" y="652.45" font-size="6.6" text-anchor="middle" font-weight="normal" fill="#1a1a1a">44</text>
<text x="458.82" y="652.45" font-size="6.6" text-anchor="middle" font-weight="normal" fill="#1a1a1a">39</text>
<text x="474.75" y="652.45" font-size="6.6" text-anchor="middle" font-weight="normal" fill="#1a1a1a">34</text>
<text x="490.67" y="652.45" font-size="6.6" text-anchor="middle" font-weight="normal" fill="#1a1a1a">29</text>
<text x="506.60" y="652.45" font-size="6.6" text-anchor="middle" font-weight="normal" fill="#1a1a1a">25</text>
<line x1="319.70" y1="658.25" x2="323.00" y2="658.25" stroke="#000" stroke-width="0.95"/>
<text x="316.70" y="660.60" font-size="6.9" text-anchor="end" font-weight="normal" fill="#1a1a1a">Yes</text>
<text x="331.40" y="660.60" font-size="6.6" text-anchor="middle" font-weight="normal" fill="#1a1a1a">22</text>
<text x="347.33" y="660.60" font-size="6.6" text-anchor="middle" font-weight="normal" fill="#1a1a1a">10</text>
<text x="363.25" y="660.60" font-size="6.6" text-anchor="middle" font-weight="normal" fill="#1a1a1a">4</text>
<text x="379.18" y="660.60" font-size="6.6" text-anchor="middle" font-weight="normal" fill="#1a1a1a">2</text>
<text x="395.11" y="660.60" font-size="6.6" text-anchor="middle" font-weight="normal" fill="#1a1a1a">1</text>
<text x="411.04" y="660.60" font-size="6.6" text-anchor="middle" font-weight="normal" fill="#1a1a1a">1</text>
<text x="426.96" y="660.60" font-size="6.6" text-anchor="middle" font-weight="normal" fill="#1a1a1a">1</text>
<text x="442.89" y="660.60" font-size="6.6" text-anchor="middle" font-weight="normal" fill="#1a1a1a">1</text>
<text x="458.82" y="660.60" font-size="6.6" text-anchor="middle" font-weight="normal" fill="#1a1a1a">1</text>
<text x="474.75" y="660.60" font-size="6.6" text-anchor="middle" font-weight="normal" fill="#1a1a1a">1</text>
<text x="490.67" y="660.60" font-size="6.6" text-anchor="middle" font-weight="normal" fill="#1a1a1a">1</text>
<text x="506.60" y="660.60" font-size="6.6" text-anchor="middle" font-weight="normal" fill="#1a1a1a">0</text>
<text transform="translate(301.40,654.00) rotate(-90)" x="0" y="0" font-size="9.3" text-anchor="middle" fill="#1a1a1a" textLength="24.8" lengthAdjust="spacingAndGlyphs">TM AML</text>
<text x="416.25" y="689.80" font-size="8.9" text-anchor="middle" font-weight="normal" fill="#1a1a1a" textLength="71.5" lengthAdjust="spacingAndGlyphs">Time from CR (months)</text>
<line x1="76.00" y1="81.45" x2="99.60" y2="81.45" stroke="#222" stroke-width="0.85" stroke-dasharray="0.9 1.3"/>
<line x1="95.20" y1="81.45" x2="95.20" y2="130.30" stroke="#222" stroke-width="0.85" stroke-dasharray="0.9 1.3"/>
<line x1="99.10" y1="81.45" x2="99.10" y2="130.30" stroke="#222" stroke-width="0.85" stroke-dasharray="0.9 1.3"/>
<polyline points="76.6,32.3 78.0,47.2 78.7,55.9 79.7,62.6 81.6,68.4 84.0,71.8 86.9,73.2 88.8,73.8 91.8,76.2 94.2,78.9 95.2,82.5 97.6,89.8 99.1,96.5 100.0,99.9 102.0,102.8 107.2,106.1 111.1,108.1 115.9,109.0 119.7,112.9 124.5,114.3 129.3,116.7 133.0,120.2 174.4,120.2 176.2,122.2 243.6,122.2" fill="none" stroke="#b01a45" stroke-width="0.85" stroke-dasharray="3.0 1.65 0.9 1.95" stroke-linejoin="round" opacity="0.85"/>
<line x1="76.60" y1="32.30" x2="77.30" y2="37.60" stroke="#b01a45" stroke-width="1.15" stroke-linecap="round"/><line x1="77.30" y1="37.60" x2="78.00" y2="43.40" stroke="#b01a45" stroke-width="1.15" stroke-linecap="round"/><line x1="78.00" y1="43.40" x2="78.70" y2="49.20" stroke="#b01a45" stroke-width="1.15" stroke-linecap="round"/><line x1="78.70" y1="49.20" x2="80.20" y2="54.90" stroke="#b01a45" stroke-width="1.15" stroke-linecap="round"/><line x1="80.20" y1="54.90" x2="81.60" y2="59.70" stroke="#b01a45" stroke-width="1.15" stroke-linecap="round"/><line x1="81.60" y1="59.70" x2="83.50" y2="64.50" stroke="#b01a45" stroke-width="1.15" stroke-linecap="round"/><line x1="83.50" y1="64.50" x2="85.90" y2="70.30" stroke="#b01a45" stroke-width="1.15" stroke-linecap="round"/><line x1="85.90" y1="70.30" x2="88.80" y2="73.20" stroke="#b01a45" stroke-width="1.15" stroke-linecap="round"/><line x1="88.80" y1="73.20" x2="91.80" y2="75.80" stroke="#b01a45" stroke-width="1.15" stroke-linecap="round"/><line x1="91.80" y1="75.80" x2="94.70" y2="78.70" stroke="#b01a45" stroke-width="1.15" stroke-linecap="round"/><line x1="94.70" y1="78.70" x2="98.60" y2="80.70" stroke="#b01a45" stroke-width="1.10" stroke-linecap="round"/><line x1="98.60" y1="80.70" x2="100.00" y2="82.60" stroke="#b01a45" stroke-width="1.15" stroke-linecap="round"/><line x1="100.00" y1="82.60" x2="102.40" y2="84.50" stroke="#b01a45" stroke-width="1.15" stroke-linecap="round"/><line x1="102.40" y1="84.50" x2="105.30" y2="87.90" stroke="#b01a45" stroke-width="1.15" stroke-linecap="round"/><line x1="105.30" y1="87.90" x2="109.20" y2="91.20" stroke="#b01a45" stroke-width="1.15" stroke-linecap="round"/><line x1="109.20" y1="91.20" x2="113.00" y2="92.70" stroke="#b01a45" stroke-width="1.03" stroke-linecap="round"/><line x1="113.00" y1="92.70" x2="116.80" y2="94.10" stroke="#b01a45" stroke-width="1.01" stroke-linecap="round"/><line x1="116.80" y1="94.10" x2="121.70" y2="96.50" stroke="#b01a45" stroke-width="1.09" stroke-linecap="round"/><line x1="121.70" y1="96.50" x2="126.50" y2="97.80" stroke="#b01a45" stroke-width="0.96" stroke-linecap="round"/><line x1="126.50" y1="97.80" x2="131.30" y2="98.40" stroke="#b01a45" stroke-width="0.87" stroke-linecap="round"/><line x1="131.30" y1="98.40" x2="134.60" y2="99.20" stroke="#b01a45" stroke-width="0.94" stroke-linecap="round"/><line x1="134.60" y1="99.20" x2="139.20" y2="100.60" stroke="#b01a45" stroke-width="0.98" stroke-linecap="round"/><line x1="139.20" y1="100.60" x2="145.00" y2="101.20" stroke="#b01a45" stroke-width="0.86" stroke-linecap="round"/><line x1="145.00" y1="101.20" x2="149.60" y2="102.10" stroke="#b01a45" stroke-width="0.91" stroke-linecap="round"/><line x1="149.60" y1="102.10" x2="156.50" y2="102.30" stroke="#b01a45" stroke-width="0.82" stroke-linecap="round"/><line x1="156.50" y1="102.30" x2="162.30" y2="103.30" stroke="#b01a45" stroke-width="0.90" stroke-linecap="round"/><line x1="162.30" y1="103.30" x2="169.20" y2="103.80" stroke="#b01a45" stroke-width="0.84" stroke-linecap="round"/><line x1="169.20" y1="103.80" x2="172.70" y2="104.80" stroke="#b01a45" stroke-width="0.97" stroke-linecap="round"/><line x1="172.70" y1="104.80" x2="177.30" y2="105.20" stroke="#b01a45" stroke-width="0.85" stroke-linecap="round"/><line x1="177.30" y1="105.20" x2="185.00" y2="105.20" stroke="#b01a45" stroke-width="0.80" stroke-linecap="round"/><line x1="185.00" y1="105.20" x2="191.30" y2="106.20" stroke="#b01a45" stroke-width="0.89" stroke-linecap="round"/><line x1="191.30" y1="106.20" x2="193.90" y2="107.40" stroke="#b01a45" stroke-width="1.07" stroke-linecap="round"/><line x1="193.90" y1="107.40" x2="196.40" y2="107.90" stroke="#b01a45" stroke-width="0.92" stroke-linecap="round"/><line x1="196.40" y1="107.90" x2="212.90" y2="107.90" stroke="#b01a45" stroke-width="0.80" stroke-linecap="round"/><line x1="212.90" y1="107.90" x2="214.80" y2="108.60" stroke="#b01a45" stroke-width="1.01" stroke-linecap="round"/><line x1="214.80" y1="108.60" x2="244.60" y2="108.60" stroke="#b01a45" stroke-width="0.80" stroke-linecap="round"/><line x1="244.60" y1="108.60" x2="245.90" y2="109.30" stroke="#b01a45" stroke-width="1.11" stroke-linecap="round"/><line x1="245.90" y1="109.30" x2="249.70" y2="109.30" stroke="#b01a45" stroke-width="0.80" stroke-linecap="round"/>
<path d="M123.60 96.22V97.82M130.42 97.49V99.09M136.86 99.09V100.69M141.00 99.99V101.59M146.23 100.64V102.24M151.26 101.35V102.95M157.19 101.62V103.22M163.74 102.60V104.20M167.16 102.85V104.45M170.29 103.31V104.91M177.05 104.38V105.98M181.99 104.40V106.00M188.43 104.94V106.54M191.43 105.46V107.06M196.44 107.10V108.70M202.69 107.10V108.70M206.72 107.10V108.70M213.97 107.49V109.09M221.03 107.80V109.40M224.16 107.80V109.40M227.28 107.80V109.40M232.71 107.80V109.40M239.94 107.80V109.40M244.66 107.83V109.43M248.63 108.50V110.10" stroke="#b01a45" stroke-width="1.0" opacity="0.55" fill="none"/>
<line x1="331.00" y1="81.45" x2="354.60" y2="81.45" stroke="#222" stroke-width="0.85" stroke-dasharray="0.9 1.3"/>
<line x1="350.70" y1="81.45" x2="350.70" y2="130.30" stroke="#222" stroke-width="0.85" stroke-dasharray="0.9 1.3"/>
<line x1="354.30" y1="81.45" x2="354.30" y2="130.30" stroke="#222" stroke-width="0.85" stroke-dasharray="0.9 1.3"/>
<polyline points="331.6,32.3 332.3,39.5 333.2,47.2 334.7,54.0 336.6,59.7 338.5,64.2 341.4,66.5 343.3,68.9 347.2,69.3 348.2,71.8 350.1,75.1 351.2,79.5 351.4,83.5 352.6,88.8 354.1,95.1 354.5,100.8 356.0,103.7 358.4,105.2 362.2,105.7 363.2,108.1 365.1,110.9 370.9,110.9 371.8,113.3 374.7,116.7 377.6,117.4 383.4,117.4 384.3,120.1 387.2,122.0 388.2,124.0 432.1,124.0 433.0,127.3 504.0,127.3" fill="none" stroke="#b01a45" stroke-width="0.85" stroke-dasharray="3.0 1.65 0.9 1.95" stroke-linejoin="round" opacity="0.85"/>
<line x1="331.60" y1="32.30" x2="332.30" y2="39.50" stroke="#b01a45" stroke-width="1.15" stroke-linecap="round"/><line x1="332.30" y1="39.50" x2="333.25" y2="47.20" stroke="#b01a45" stroke-width="1.15" stroke-linecap="round"/><line x1="333.25" y1="47.20" x2="334.70" y2="54.00" stroke="#b01a45" stroke-width="1.15" stroke-linecap="round"/><line x1="334.70" y1="54.00" x2="336.60" y2="59.70" stroke="#b01a45" stroke-width="1.15" stroke-linecap="round"/><line x1="336.60" y1="59.70" x2="338.50" y2="64.50" stroke="#b01a45" stroke-width="1.15" stroke-linecap="round"/><line x1="338.50" y1="64.50" x2="340.50" y2="69.30" stroke="#b01a45" stroke-width="1.15" stroke-linecap="round"/><line x1="340.50" y1="69.30" x2="343.30" y2="72.70" stroke="#b01a45" stroke-width="1.15" stroke-linecap="round"/><line x1="343.30" y1="72.70" x2="346.50" y2="75.90" stroke="#b01a45" stroke-width="1.15" stroke-linecap="round"/><line x1="346.50" y1="75.90" x2="350.70" y2="79.20" stroke="#b01a45" stroke-width="1.15" stroke-linecap="round"/><line x1="350.70" y1="79.20" x2="354.10" y2="81.10" stroke="#b01a45" stroke-width="1.13" stroke-linecap="round"/><line x1="354.10" y1="81.10" x2="356.50" y2="84.00" stroke="#b01a45" stroke-width="1.15" stroke-linecap="round"/><line x1="356.50" y1="84.00" x2="359.80" y2="86.40" stroke="#b01a45" stroke-width="1.15" stroke-linecap="round"/><line x1="359.80" y1="86.40" x2="362.20" y2="89.30" stroke="#b01a45" stroke-width="1.15" stroke-linecap="round"/><line x1="362.20" y1="89.30" x2="365.10" y2="91.70" stroke="#b01a45" stroke-width="1.15" stroke-linecap="round"/><line x1="365.10" y1="91.70" x2="369.00" y2="93.20" stroke="#b01a45" stroke-width="1.02" stroke-linecap="round"/><line x1="369.00" y1="93.20" x2="372.80" y2="94.60" stroke="#b01a45" stroke-width="1.01" stroke-linecap="round"/><line x1="372.80" y1="94.60" x2="376.70" y2="96.50" stroke="#b01a45" stroke-width="1.08" stroke-linecap="round"/><line x1="376.70" y1="96.50" x2="381.50" y2="98.00" stroke="#b01a45" stroke-width="0.98" stroke-linecap="round"/><line x1="381.50" y1="98.00" x2="386.30" y2="98.70" stroke="#b01a45" stroke-width="0.89" stroke-linecap="round"/><line x1="386.30" y1="98.70" x2="389.20" y2="99.10" stroke="#b01a45" stroke-width="0.88" stroke-linecap="round"/><line x1="389.20" y1="99.10" x2="392.80" y2="100.30" stroke="#b01a45" stroke-width="0.99" stroke-linecap="round"/><line x1="392.80" y1="100.30" x2="398.70" y2="101.50" stroke="#b01a45" stroke-width="0.92" stroke-linecap="round"/><line x1="398.70" y1="101.50" x2="404.70" y2="102.10" stroke="#b01a45" stroke-width="0.86" stroke-linecap="round"/><line x1="404.70" y1="102.10" x2="407.70" y2="103.10" stroke="#b01a45" stroke-width="0.99" stroke-linecap="round"/><line x1="407.70" y1="103.10" x2="415.40" y2="103.30" stroke="#b01a45" stroke-width="0.82" stroke-linecap="round"/><line x1="415.40" y1="103.30" x2="419.60" y2="104.20" stroke="#b01a45" stroke-width="0.92" stroke-linecap="round"/><line x1="419.60" y1="104.20" x2="427.30" y2="104.50" stroke="#b01a45" stroke-width="0.82" stroke-linecap="round"/><line x1="427.30" y1="104.50" x2="430.30" y2="105.40" stroke="#b01a45" stroke-width="0.98" stroke-linecap="round"/><line x1="430.30" y1="105.40" x2="435.70" y2="105.70" stroke="#b01a45" stroke-width="0.83" stroke-linecap="round"/><line x1="435.70" y1="105.70" x2="445.20" y2="106.10" stroke="#b01a45" stroke-width="0.82" stroke-linecap="round"/><line x1="445.20" y1="106.10" x2="448.00" y2="106.50" stroke="#b01a45" stroke-width="0.88" stroke-linecap="round"/><line x1="448.00" y1="106.50" x2="451.10" y2="106.80" stroke="#b01a45" stroke-width="0.86" stroke-linecap="round"/><line x1="451.10" y1="106.80" x2="452.90" y2="108.00" stroke="#b01a45" stroke-width="1.15" stroke-linecap="round"/><line x1="452.90" y1="108.00" x2="472.60" y2="108.20" stroke="#b01a45" stroke-width="0.81" stroke-linecap="round"/><line x1="472.60" y1="108.20" x2="474.50" y2="109.20" stroke="#b01a45" stroke-width="1.11" stroke-linecap="round"/><line x1="474.50" y1="109.20" x2="505.80" y2="109.20" stroke="#b01a45" stroke-width="0.80" stroke-linecap="round"/><line x1="505.80" y1="109.20" x2="507.10" y2="110.00" stroke="#b01a45" stroke-width="1.15" stroke-linecap="round"/><line x1="507.10" y1="110.00" x2="510.60" y2="110.00" stroke="#b01a45" stroke-width="0.80" stroke-linecap="round"/>
<path d="M382.30 97.32V98.92M389.57 98.42V100.02M392.82 99.50V101.10M396.20 100.19V101.79M402.96 101.13V102.73M409.28 102.34V103.94M415.29 102.50V104.10M419.68 103.40V105.00M425.40 103.63V105.23M431.13 104.65V106.25M436.75 104.94V106.54M440.46 105.10V106.70M445.40 105.33V106.93M450.17 105.91V107.51M456.42 107.24V108.84M463.90 107.31V108.91M471.17 107.39V108.99M476.62 108.40V110.00M481.62 108.40V110.00M485.83 108.40V110.00M488.99 108.40V110.00M492.12 108.40V110.00M497.21 108.40V110.00M501.64 108.40V110.00M506.35 108.74V110.34" stroke="#b01a45" stroke-width="1.0" opacity="0.55" fill="none"/>
<line x1="76.00" y1="285.10" x2="136.20" y2="285.10" stroke="#222" stroke-width="0.85" stroke-dasharray="0.9 1.3"/>
<line x1="94.30" y1="285.10" x2="94.30" y2="317.30" stroke="#222" stroke-width="0.85" stroke-dasharray="0.9 1.3"/>
<line x1="136.00" y1="285.10" x2="136.00" y2="317.30" stroke="#222" stroke-width="0.85" stroke-dasharray="0.9 1.3"/>
<polyline points="76.8,317.3 79.2,316.1 80.7,314.6 82.6,314.1 85.5,311.0 86.4,308.4 87.9,305.0 89.3,300.2 90.3,293.5 91.7,289.6 94.6,284.8 96.5,282.4 98.0,278.1 98.9,275.7 101.8,274.2 104.7,274.2 107.6,272.3 110.0,270.4 119.2,270.4 121.5,267.7 123.8,266.0 128.4,266.0 130.7,265.4 132.4,263.7 243.7,263.7" fill="none" stroke="#b01a45" stroke-width="0.85" stroke-dasharray="3.0 1.65 0.9 1.95" stroke-linejoin="round" opacity="0.85"/>
<line x1="76.80" y1="317.30" x2="79.20" y2="316.10" stroke="#b01a45" stroke-width="1.09" stroke-linecap="round"/><line x1="79.20" y1="316.10" x2="80.70" y2="314.60" stroke="#b01a45" stroke-width="1.15" stroke-linecap="round"/><line x1="80.70" y1="314.60" x2="82.60" y2="314.10" stroke="#b01a45" stroke-width="0.95" stroke-linecap="round"/><line x1="82.60" y1="314.10" x2="85.50" y2="312.20" stroke="#b01a45" stroke-width="1.15" stroke-linecap="round"/><line x1="85.50" y1="312.20" x2="88.30" y2="310.30" stroke="#b01a45" stroke-width="1.15" stroke-linecap="round"/><line x1="88.30" y1="310.30" x2="91.20" y2="307.90" stroke="#b01a45" stroke-width="1.15" stroke-linecap="round"/><line x1="91.20" y1="307.90" x2="93.60" y2="305.00" stroke="#b01a45" stroke-width="1.15" stroke-linecap="round"/><line x1="93.60" y1="305.00" x2="95.60" y2="300.70" stroke="#b01a45" stroke-width="1.15" stroke-linecap="round"/><line x1="95.60" y1="300.70" x2="98.00" y2="298.75" stroke="#b01a45" stroke-width="1.15" stroke-linecap="round"/><line x1="98.00" y1="298.75" x2="100.40" y2="295.90" stroke="#b01a45" stroke-width="1.15" stroke-linecap="round"/><line x1="100.40" y1="295.90" x2="103.70" y2="293.90" stroke="#b01a45" stroke-width="1.15" stroke-linecap="round"/><line x1="103.70" y1="293.90" x2="107.60" y2="293.00" stroke="#b01a45" stroke-width="0.93" stroke-linecap="round"/><line x1="107.60" y1="293.00" x2="112.40" y2="291.50" stroke="#b01a45" stroke-width="0.98" stroke-linecap="round"/><line x1="112.40" y1="291.50" x2="117.20" y2="289.60" stroke="#b01a45" stroke-width="1.03" stroke-linecap="round"/><line x1="117.20" y1="289.60" x2="118.00" y2="289.00" stroke="#b01a45" stroke-width="1.15" stroke-linecap="round"/><line x1="118.00" y1="289.00" x2="124.90" y2="287.30" stroke="#b01a45" stroke-width="0.94" stroke-linecap="round"/><line x1="124.90" y1="287.30" x2="131.80" y2="285.90" stroke="#b01a45" stroke-width="0.92" stroke-linecap="round"/><line x1="131.80" y1="285.90" x2="135.90" y2="285.00" stroke="#b01a45" stroke-width="0.93" stroke-linecap="round"/><line x1="135.90" y1="285.00" x2="150.30" y2="285.00" stroke="#b01a45" stroke-width="0.80" stroke-linecap="round"/><line x1="150.30" y1="285.00" x2="152.60" y2="283.80" stroke="#b01a45" stroke-width="1.10" stroke-linecap="round"/><line x1="152.60" y1="283.80" x2="160.70" y2="283.60" stroke="#b01a45" stroke-width="0.81" stroke-linecap="round"/><line x1="160.70" y1="283.60" x2="165.30" y2="282.70" stroke="#b01a45" stroke-width="0.91" stroke-linecap="round"/><line x1="165.30" y1="282.70" x2="169.90" y2="280.60" stroke="#b01a45" stroke-width="1.07" stroke-linecap="round"/><line x1="169.90" y1="280.60" x2="178.00" y2="280.40" stroke="#b01a45" stroke-width="0.81" stroke-linecap="round"/><line x1="178.00" y1="280.40" x2="249.60" y2="280.40" stroke="#b01a45" stroke-width="0.80" stroke-linecap="round"/>
<path d="M116.07 289.25V290.85M121.52 287.33V288.93M126.18 286.24V287.84M131.90 285.08V286.68M137.72 284.20V285.80M141.01 284.20V285.80M144.07 284.20V285.80M150.84 283.92V285.52M155.01 282.94V284.54M159.06 282.84V284.44M166.54 281.33V282.93M171.66 279.76V281.36M178.42 279.60V281.20M183.57 279.60V281.20M189.44 279.60V281.20M193.12 279.60V281.20M198.98 279.60V281.20M205.88 279.60V281.20M211.24 279.60V281.20M217.57 279.60V281.20M223.59 279.60V281.20M226.88 279.60V281.20M233.29 279.60V281.20M238.95 279.60V281.20M243.31 279.60V281.20M246.45 279.60V281.20" stroke="#b01a45" stroke-width="1.0" opacity="0.55" fill="none"/>
<line x1="331.00" y1="283.40" x2="391.90" y2="283.40" stroke="#222" stroke-width="0.85" stroke-dasharray="0.9 1.3"/>
<line x1="347.50" y1="283.40" x2="347.50" y2="317.30" stroke="#222" stroke-width="0.85" stroke-dasharray="0.9 1.3"/>
<line x1="391.60" y1="283.40" x2="391.60" y2="317.30" stroke="#222" stroke-width="0.85" stroke-dasharray="0.9 1.3"/>
<polyline points="331.5,317.1 335.0,314.6 338.0,313.1 341.0,310.1 343.5,304.6 345.0,297.1 346.0,292.1 347.0,283.6 348.5,280.1 350.5,278.6 353.0,275.1 354.1,269.0 356.6,265.5 360.1,265.5 361.6,262.5 377.5,262.3 378.3,256.5 387.0,256.0 388.2,253.0 503.3,252.7" fill="none" stroke="#b01a45" stroke-width="0.85" stroke-dasharray="3.0 1.65 0.9 1.95" stroke-linejoin="round" opacity="0.85"/>
<line x1="331.50" y1="317.10" x2="335.00" y2="314.60" stroke="#b01a45" stroke-width="1.15" stroke-linecap="round"/><line x1="335.00" y1="314.60" x2="338.00" y2="313.10" stroke="#b01a45" stroke-width="1.09" stroke-linecap="round"/><line x1="338.00" y1="313.10" x2="341.00" y2="310.60" stroke="#b01a45" stroke-width="1.15" stroke-linecap="round"/><line x1="341.00" y1="310.60" x2="345.00" y2="308.10" stroke="#b01a45" stroke-width="1.15" stroke-linecap="round"/><line x1="345.00" y1="308.10" x2="347.50" y2="305.10" stroke="#b01a45" stroke-width="1.15" stroke-linecap="round"/><line x1="347.50" y1="305.10" x2="350.00" y2="301.60" stroke="#b01a45" stroke-width="1.15" stroke-linecap="round"/><line x1="350.00" y1="301.60" x2="352.00" y2="298.10" stroke="#b01a45" stroke-width="1.15" stroke-linecap="round"/><line x1="352.00" y1="298.10" x2="354.10" y2="296.60" stroke="#b01a45" stroke-width="1.15" stroke-linecap="round"/><line x1="354.10" y1="296.60" x2="356.60" y2="294.10" stroke="#b01a45" stroke-width="1.15" stroke-linecap="round"/><line x1="356.60" y1="294.10" x2="360.10" y2="292.60" stroke="#b01a45" stroke-width="1.05" stroke-linecap="round"/><line x1="360.10" y1="292.60" x2="363.10" y2="292.10" stroke="#b01a45" stroke-width="0.90" stroke-linecap="round"/><line x1="363.10" y1="292.10" x2="367.10" y2="290.60" stroke="#b01a45" stroke-width="1.02" stroke-linecap="round"/><line x1="367.10" y1="290.60" x2="372.10" y2="288.30" stroke="#b01a45" stroke-width="1.07" stroke-linecap="round"/><line x1="372.10" y1="288.30" x2="378.90" y2="286.00" stroke="#b01a45" stroke-width="1.00" stroke-linecap="round"/><line x1="378.90" y1="286.00" x2="385.80" y2="284.50" stroke="#b01a45" stroke-width="0.93" stroke-linecap="round"/><line x1="385.80" y1="284.50" x2="391.60" y2="283.40" stroke="#b01a45" stroke-width="0.91" stroke-linecap="round"/><line x1="391.60" y1="283.40" x2="406.60" y2="283.10" stroke="#b01a45" stroke-width="0.81" stroke-linecap="round"/><line x1="406.60" y1="283.10" x2="411.20" y2="281.90" stroke="#b01a45" stroke-width="0.95" stroke-linecap="round"/><line x1="411.20" y1="281.90" x2="420.50" y2="281.70" stroke="#b01a45" stroke-width="0.81" stroke-linecap="round"/><line x1="420.50" y1="281.70" x2="425.10" y2="279.60" stroke="#b01a45" stroke-width="1.07" stroke-linecap="round"/><line x1="425.10" y1="279.60" x2="432.00" y2="279.00" stroke="#b01a45" stroke-width="0.85" stroke-linecap="round"/><line x1="432.00" y1="279.00" x2="440.30" y2="278.90" stroke="#b01a45" stroke-width="0.81" stroke-linecap="round"/><line x1="440.30" y1="278.90" x2="441.00" y2="278.10" stroke="#b01a45" stroke-width="1.15" stroke-linecap="round"/><line x1="441.00" y1="278.10" x2="510.40" y2="278.10" stroke="#b01a45" stroke-width="0.80" stroke-linecap="round"/>
<path d="M372.06 287.52V289.12M375.53 286.34V287.94M380.31 284.89V286.49M384.01 284.09V285.69M387.31 283.41V285.01M392.11 282.59V284.19M399.24 282.45V284.05M405.85 282.32V283.92M412.29 281.08V282.68M416.29 280.99V282.59M421.70 280.35V281.95M425.95 278.73V280.33M429.72 278.40V280.00M433.20 278.19V279.79M437.17 278.14V279.74M444.34 277.30V278.90M451.07 277.30V278.90M457.70 277.30V278.90M464.30 277.30V278.90M468.17 277.30V278.90M472.57 277.30V278.90M478.39 277.30V278.90M484.68 277.30V278.90M491.53 277.30V278.90M498.49 277.30V278.90M501.88 277.30V278.90M507.61 277.30V278.90" stroke="#b01a45" stroke-width="1.0" opacity="0.55" fill="none"/>
<line x1="76.00" y1="553.00" x2="136.50" y2="553.00" stroke="#222" stroke-width="0.85" stroke-dasharray="0.9 1.3"/>
<line x1="94.30" y1="553.00" x2="94.30" y2="602.00" stroke="#222" stroke-width="0.85" stroke-dasharray="0.9 1.3"/>
<line x1="136.20" y1="553.00" x2="136.20" y2="602.00" stroke="#222" stroke-width="0.85" stroke-dasharray="0.9 1.3"/>
<polyline points="76.8,503.8 78.7,504.8 80.2,507.7 82.6,509.1 85.0,511.5 87.4,515.9 88.3,519.2 89.3,525.0 90.3,533.7 90.8,541.3 92.4,547.6 94.3,551.5 96.1,556.2 97.8,561.3 100.1,566.5 101.8,568.8 105.3,569.4 107.0,572.3 108.8,574.6 120.3,574.6 121.5,577.5 122.0,581.5 130.7,581.5 131.3,585.8 243.5,585.8" fill="none" stroke="#b01a45" stroke-width="0.85" stroke-dasharray="3.0 1.65 0.9 1.95" stroke-linejoin="round" opacity="0.85"/>
<line x1="76.80" y1="503.80" x2="78.70" y2="504.80" stroke="#b01a45" stroke-width="1.11" stroke-linecap="round"/><line x1="78.70" y1="504.80" x2="80.20" y2="507.70" stroke="#b01a45" stroke-width="1.15" stroke-linecap="round"/><line x1="80.20" y1="507.70" x2="82.60" y2="509.10" stroke="#b01a45" stroke-width="1.14" stroke-linecap="round"/><line x1="82.60" y1="509.10" x2="85.00" y2="511.50" stroke="#b01a45" stroke-width="1.15" stroke-linecap="round"/><line x1="85.00" y1="511.50" x2="87.40" y2="514.40" stroke="#b01a45" stroke-width="1.15" stroke-linecap="round"/><line x1="87.40" y1="514.40" x2="90.30" y2="517.80" stroke="#b01a45" stroke-width="1.15" stroke-linecap="round"/><line x1="90.30" y1="517.80" x2="92.20" y2="521.20" stroke="#b01a45" stroke-width="1.15" stroke-linecap="round"/><line x1="92.20" y1="521.20" x2="94.60" y2="525.50" stroke="#b01a45" stroke-width="1.15" stroke-linecap="round"/><line x1="94.60" y1="525.50" x2="95.60" y2="529.80" stroke="#b01a45" stroke-width="1.15" stroke-linecap="round"/><line x1="95.60" y1="529.80" x2="98.00" y2="532.20" stroke="#b01a45" stroke-width="1.15" stroke-linecap="round"/><line x1="98.00" y1="532.20" x2="99.90" y2="535.60" stroke="#b01a45" stroke-width="1.15" stroke-linecap="round"/><line x1="99.90" y1="535.60" x2="103.70" y2="538.50" stroke="#b01a45" stroke-width="1.15" stroke-linecap="round"/><line x1="103.70" y1="538.50" x2="108.50" y2="540.40" stroke="#b01a45" stroke-width="1.03" stroke-linecap="round"/><line x1="108.50" y1="540.40" x2="111.10" y2="542.30" stroke="#b01a45" stroke-width="1.15" stroke-linecap="round"/><line x1="111.10" y1="542.30" x2="115.70" y2="545.20" stroke="#b01a45" stroke-width="1.15" stroke-linecap="round"/><line x1="115.70" y1="545.20" x2="119.20" y2="547.50" stroke="#b01a45" stroke-width="1.15" stroke-linecap="round"/><line x1="119.20" y1="547.50" x2="122.60" y2="548.70" stroke="#b01a45" stroke-width="1.01" stroke-linecap="round"/><line x1="122.60" y1="548.70" x2="127.20" y2="550.40" stroke="#b01a45" stroke-width="1.02" stroke-linecap="round"/><line x1="127.20" y1="550.40" x2="131.80" y2="551.50" stroke="#b01a45" stroke-width="0.94" stroke-linecap="round"/><line x1="131.80" y1="551.50" x2="135.90" y2="553.30" stroke="#b01a45" stroke-width="1.06" stroke-linecap="round"/><line x1="135.90" y1="553.30" x2="150.80" y2="553.60" stroke="#b01a45" stroke-width="0.81" stroke-linecap="round"/><line x1="150.80" y1="553.60" x2="153.10" y2="555.00" stroke="#b01a45" stroke-width="1.15" stroke-linecap="round"/><line x1="153.10" y1="555.00" x2="161.20" y2="555.00" stroke="#b01a45" stroke-width="0.80" stroke-linecap="round"/><line x1="161.20" y1="555.00" x2="165.20" y2="556.70" stroke="#b01a45" stroke-width="1.05" stroke-linecap="round"/><line x1="165.20" y1="556.70" x2="168.70" y2="559.00" stroke="#b01a45" stroke-width="1.15" stroke-linecap="round"/><line x1="168.70" y1="559.00" x2="171.50" y2="559.60" stroke="#b01a45" stroke-width="0.93" stroke-linecap="round"/><line x1="171.50" y1="559.60" x2="181.30" y2="559.60" stroke="#b01a45" stroke-width="0.80" stroke-linecap="round"/><line x1="181.30" y1="559.60" x2="183.10" y2="560.60" stroke="#b01a45" stroke-width="1.12" stroke-linecap="round"/><line x1="183.10" y1="560.60" x2="249.00" y2="560.60" stroke="#b01a45" stroke-width="0.80" stroke-linecap="round"/>
<path d="M123.80 548.34V549.94M130.14 550.30V551.90M136.72 552.52V554.12M143.96 552.66V554.26M150.29 552.79V554.39M157.44 554.20V555.80M160.57 554.20V555.80M165.67 556.21V557.81M172.91 558.80V560.40M178.83 558.80V560.40M185.89 559.80V561.40M189.40 559.80V561.40M194.51 559.80V561.40M198.62 559.80V561.40M204.06 559.80V561.40M209.65 559.80V561.40M212.70 559.80V561.40M216.68 559.80V561.40M220.94 559.80V561.40M228.06 559.80V561.40M234.51 559.80V561.40M238.22 559.80V561.40M244.81 559.80V561.40" stroke="#b01a45" stroke-width="1.0" opacity="0.55" fill="none"/>
<line x1="331.00" y1="553.00" x2="392.00" y2="553.00" stroke="#222" stroke-width="0.85" stroke-dasharray="0.9 1.3"/>
<line x1="346.30" y1="553.00" x2="346.30" y2="602.00" stroke="#222" stroke-width="0.85" stroke-dasharray="0.9 1.3"/>
<line x1="391.70" y1="553.00" x2="391.70" y2="602.00" stroke="#222" stroke-width="0.85" stroke-dasharray="0.9 1.3"/>
<polyline points="331.8,503.8 334.2,505.3 335.7,507.7 338.1,509.1 341.4,513.5 342.4,517.3 343.3,524.0 344.3,530.8 344.8,539.4 345.8,544.2 346.2,550.0 346.5,554.5 348.1,557.3 349.8,561.3 352.7,561.9 353.3,566.5 353.8,573.5 355.0,575.8 356.7,579.8 360.2,579.8 361.3,583.3 364.2,584.4 378.1,584.4 378.7,592.5 386.2,593.1 387.3,597.3 504.0,597.3" fill="none" stroke="#b01a45" stroke-width="0.85" stroke-dasharray="3.0 1.65 0.9 1.95" stroke-linejoin="round" opacity="0.85"/>
<line x1="331.80" y1="503.80" x2="334.20" y2="505.30" stroke="#b01a45" stroke-width="1.15" stroke-linecap="round"/><line x1="334.20" y1="505.30" x2="335.70" y2="507.70" stroke="#b01a45" stroke-width="1.15" stroke-linecap="round"/><line x1="335.70" y1="507.70" x2="338.10" y2="509.10" stroke="#b01a45" stroke-width="1.14" stroke-linecap="round"/><line x1="338.10" y1="509.10" x2="341.00" y2="512.50" stroke="#b01a45" stroke-width="1.15" stroke-linecap="round"/><line x1="341.00" y1="512.50" x2="344.30" y2="515.90" stroke="#b01a45" stroke-width="1.15" stroke-linecap="round"/><line x1="344.30" y1="515.90" x2="346.20" y2="519.20" stroke="#b01a45" stroke-width="1.15" stroke-linecap="round"/><line x1="346.20" y1="519.20" x2="348.60" y2="524.00" stroke="#b01a45" stroke-width="1.15" stroke-linecap="round"/><line x1="348.60" y1="524.00" x2="350.60" y2="527.40" stroke="#b01a45" stroke-width="1.15" stroke-linecap="round"/><line x1="350.60" y1="527.40" x2="351.50" y2="531.25" stroke="#b01a45" stroke-width="1.15" stroke-linecap="round"/><line x1="351.50" y1="531.25" x2="353.40" y2="533.20" stroke="#b01a45" stroke-width="1.15" stroke-linecap="round"/><line x1="353.40" y1="533.20" x2="355.40" y2="536.10" stroke="#b01a45" stroke-width="1.15" stroke-linecap="round"/><line x1="355.40" y1="536.10" x2="357.80" y2="538.00" stroke="#b01a45" stroke-width="1.15" stroke-linecap="round"/><line x1="357.80" y1="538.00" x2="361.60" y2="540.10" stroke="#b01a45" stroke-width="1.12" stroke-linecap="round"/><line x1="361.60" y1="540.10" x2="366.50" y2="543.50" stroke="#b01a45" stroke-width="1.15" stroke-linecap="round"/><line x1="366.50" y1="543.50" x2="371.20" y2="546.30" stroke="#b01a45" stroke-width="1.15" stroke-linecap="round"/><line x1="371.20" y1="546.30" x2="375.80" y2="548.70" stroke="#b01a45" stroke-width="1.10" stroke-linecap="round"/><line x1="375.80" y1="548.70" x2="381.50" y2="550.40" stroke="#b01a45" stroke-width="0.97" stroke-linecap="round"/><line x1="381.50" y1="550.40" x2="387.30" y2="552.10" stroke="#b01a45" stroke-width="0.97" stroke-linecap="round"/><line x1="387.30" y1="552.10" x2="391.90" y2="553.70" stroke="#b01a45" stroke-width="1.00" stroke-linecap="round"/><line x1="391.90" y1="553.70" x2="408.30" y2="553.80" stroke="#b01a45" stroke-width="0.80" stroke-linecap="round"/><line x1="408.30" y1="553.80" x2="410.00" y2="555.20" stroke="#b01a45" stroke-width="1.15" stroke-linecap="round"/><line x1="410.00" y1="555.20" x2="418.70" y2="555.20" stroke="#b01a45" stroke-width="0.80" stroke-linecap="round"/><line x1="418.70" y1="555.20" x2="419.80" y2="556.20" stroke="#b01a45" stroke-width="1.15" stroke-linecap="round"/><line x1="419.80" y1="556.20" x2="422.70" y2="556.40" stroke="#b01a45" stroke-width="0.84" stroke-linecap="round"/><line x1="422.70" y1="556.40" x2="426.20" y2="558.70" stroke="#b01a45" stroke-width="1.15" stroke-linecap="round"/><line x1="426.20" y1="558.70" x2="428.50" y2="559.40" stroke="#b01a45" stroke-width="0.98" stroke-linecap="round"/><line x1="428.50" y1="559.40" x2="439.40" y2="559.40" stroke="#b01a45" stroke-width="0.80" stroke-linecap="round"/><line x1="439.40" y1="559.40" x2="441.20" y2="560.40" stroke="#b01a45" stroke-width="1.12" stroke-linecap="round"/><line x1="441.20" y1="560.40" x2="509.80" y2="560.40" stroke="#b01a45" stroke-width="0.80" stroke-linecap="round"/>
<path d="M378.57 548.73V550.33M385.27 550.70V552.30M390.45 552.40V554.00M394.63 552.92V554.52M397.63 552.93V554.53M403.61 552.97V554.57M408.73 553.35V554.95M415.15 554.40V556.00M419.83 555.40V557.00M426.29 557.93V559.53M430.52 558.60V560.20M437.13 558.60V560.20M443.41 559.60V561.20M448.28 559.60V561.20M453.70 559.60V561.20M459.77 559.60V561.20M463.64 559.60V561.20M469.13 559.60V561.20M475.75 559.60V561.20M479.95 559.60V561.20M486.56 559.60V561.20M492.65 559.60V561.20M499.45 559.60V561.20M503.96 559.60V561.20M507.37 559.60V561.20" stroke="#b01a45" stroke-width="1.0" opacity="0.55" fill="none"/>
</svg>
</body></html>
